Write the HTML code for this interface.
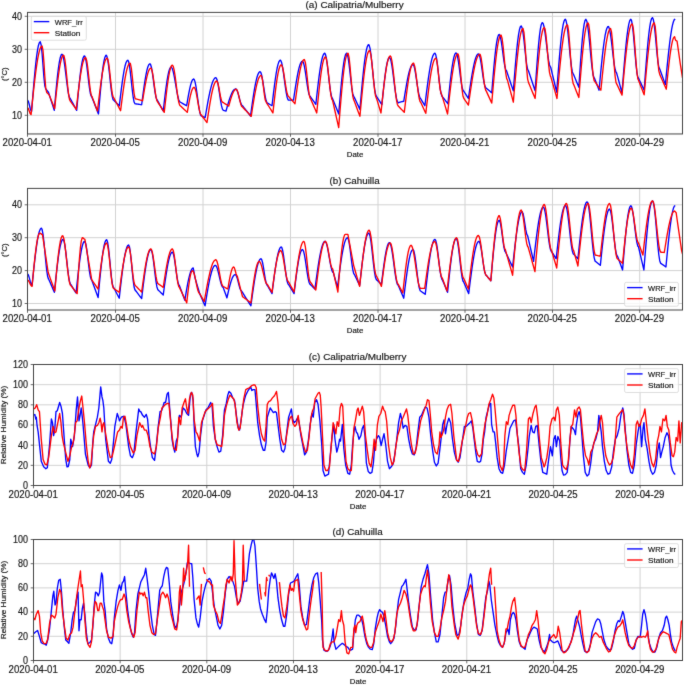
<!DOCTYPE html>
<html><head><meta charset="utf-8"><style>
html,body{margin:0;padding:0;background:#fff;}
svg{display:block;will-change:transform;}
text{fill:#1a1a1a;stroke:#1a1a1a;stroke-width:0.18px;}
</style></head><body>
<svg width="685" height="685" viewBox="0 0 685 685" font-family="Liberation Sans, sans-serif">
<defs><filter id="soft" x="0" y="0" width="685" height="685" filterUnits="userSpaceOnUse" color-interpolation-filters="sRGB"><feConvolveMatrix order="3" kernelMatrix="0.015 0.065 0.015 0.065 0.68 0.065 0.015 0.065 0.015" edgeMode="duplicate"/></filter></defs>
<g filter="url(#soft)">
<rect width="685" height="685" fill="#ffffff"/>
<clipPath id="clipa"><rect x="27.5" y="12.4" width="655.0" height="121.54999999999998"/></clipPath>
<path d="M27.50,12.4 L27.50,133.95 M115.50,12.4 L115.50,133.95 M203.00,12.4 L203.00,133.95 M290.50,12.4 L290.50,133.95 M378.00,12.4 L378.00,133.95 M465.00,12.4 L465.00,133.95 M552.50,12.4 L552.50,133.95 M639.70,12.4 L639.70,133.95 M27.5,115.30 L682.5,115.30 M27.5,82.30 L682.5,82.30 M27.5,49.30 L682.5,49.30 M27.5,16.30 L682.5,16.30" stroke="#d2d2d2" stroke-width="1" fill="none" clip-path="url(#clipa)"/>
<g clip-path="url(#clipa)" fill="none" stroke-width="1.35" stroke-linejoin="round" stroke-linecap="butt">
<path d="M27.50,100.12 L28.41,101.43 L29.32,104.76 L30.23,108.53 L31.14,111.00 L31.60,111.34 L32.05,105.59 L32.97,94.25 L33.88,83.37 L34.79,73.26 L35.70,64.18 L36.61,56.39 L37.52,50.10 L38.43,45.48 L39.34,42.66 L40.25,41.71 L41.16,44.87 L42.08,53.51 L42.99,65.31 L43.90,77.10 L44.81,85.74 L45.72,88.90 L46.63,90.00 L47.54,91.10 L48.45,92.20 L49.36,95.04 L50.27,97.87 L51.19,100.71 L52.10,103.54 L53.01,106.38 L53.92,109.22 L54.28,110.35 L54.83,104.07 L55.74,93.81 L56.65,84.14 L57.56,75.37 L58.47,67.83 L59.38,61.77 L60.30,57.40 L61.21,54.88 L61.94,54.25 L62.12,54.30 L63.03,56.12 L63.94,60.33 L64.85,66.42 L65.76,73.69 L66.67,81.28 L67.58,88.28 L68.49,93.88 L69.41,97.41 L70.23,98.47 L71.23,100.31 L72.14,101.98 L73.05,103.66 L73.96,105.33 L74.87,107.00 L75.78,108.68 L76.69,110.35 L77.60,100.34 L78.52,90.68 L79.43,81.69 L80.34,73.67 L81.25,66.90 L82.16,61.61 L83.07,57.98 L83.98,56.13 L84.44,55.90 L84.89,56.30 L85.80,59.40 L86.71,65.13 L87.63,72.58 L88.54,80.60 L89.45,87.93 L90.36,93.43 L91.27,96.23 L91.63,96.49 L92.18,97.89 L93.09,100.22 L94.00,102.55 L94.91,104.89 L95.82,107.22 L96.74,109.55 L97.65,111.88 L98.47,113.98 L99.47,102.12 L100.38,91.75 L101.29,82.14 L102.20,73.61 L103.11,66.46 L104.02,60.92 L104.93,57.19 L105.85,55.40 L106.21,55.24 L106.76,55.84 L107.67,59.42 L108.58,65.71 L109.49,73.78 L110.40,82.43 L111.31,90.37 L112.22,96.43 L113.13,99.70 L113.59,100.12 L114.04,100.57 L114.96,101.46 L115.87,102.35 L116.78,103.24 L117.69,104.13 L118.60,105.02 L119.33,105.73 L119.51,104.19 L120.42,96.56 L121.33,89.19 L122.24,82.30 L123.15,76.07 L124.07,70.68 L124.98,66.29 L125.89,63.02 L126.80,60.97 L127.80,60.19 L128.62,61.57 L129.53,66.12 L130.44,73.14 L131.35,81.54 L132.26,90.00 L133.18,97.22 L134.09,102.05 L135.00,103.75 L135.91,103.89 L136.82,104.02 L137.73,104.16 L138.64,104.29 L139.55,104.43 L140.46,104.56 L141.37,104.70 L141.65,104.74 L142.29,99.81 L143.20,92.90 L144.11,86.35 L145.02,80.35 L145.93,75.07 L146.84,70.67 L147.75,67.28 L148.66,65.01 L149.57,63.92 L149.94,63.82 L150.48,64.31 L151.40,67.20 L152.31,72.29 L153.22,78.82 L154.13,85.81 L155.04,92.24 L155.95,97.13 L156.86,99.78 L157.32,100.12 L157.77,100.96 L158.68,102.63 L159.59,104.31 L160.51,105.98 L161.42,107.66 L162.33,109.33 L163.24,111.01 L164.15,103.04 L165.06,95.33 L165.97,88.15 L166.88,81.72 L167.79,76.27 L168.70,71.98 L169.62,68.98 L170.53,67.38 L171.07,67.12 L171.44,67.26 L172.35,68.75 L173.26,71.77 L174.17,76.02 L175.08,81.10 L175.99,86.51 L176.90,91.74 L177.81,96.29 L178.73,99.71 L179.64,101.69 L180.27,102.10 L180.55,102.26 L181.46,102.77 L182.37,103.29 L183.28,103.81 L184.19,104.33 L185.10,104.85 L186.01,105.37 L186.65,105.73 L186.92,104.10 L187.84,98.72 L188.75,93.64 L189.66,89.06 L190.57,85.18 L191.48,82.14 L192.39,80.08 L193.30,79.09 L193.67,79.00 L194.21,79.45 L195.12,82.14 L196.03,86.90 L196.95,93.08 L197.86,99.86 L198.77,106.32 L199.68,111.59 L200.59,114.95 L201.41,115.96 L202.41,116.40 L203.32,116.81 L204.23,117.21 L205.14,117.61 L206.06,112.27 L206.97,107.02 L207.88,101.96 L208.79,97.18 L209.70,92.77 L210.61,88.81 L211.52,85.37 L212.43,82.51 L213.34,80.27 L214.25,78.72 L215.17,77.86 L215.80,77.68 L216.08,77.79 L216.99,79.62 L217.90,83.49 L218.81,88.85 L219.72,94.94 L220.63,100.90 L221.54,105.89 L222.45,109.19 L223.36,110.35 L224.28,110.58 L225.19,110.81 L226.01,111.01 L227.01,107.46 L227.92,104.30 L228.83,101.29 L229.74,98.49 L230.65,95.96 L231.56,93.75 L232.47,91.92 L233.39,90.49 L234.30,89.51 L235.21,88.99 L235.75,88.90 L236.12,89.02 L237.03,90.34 L237.94,92.90 L238.85,96.25 L239.76,99.78 L240.67,102.87 L241.58,104.98 L242.50,105.73 L243.41,106.89 L244.32,108.05 L245.23,109.22 L246.14,110.38 L247.05,111.54 L247.96,112.70 L248.87,113.87 L249.78,115.03 L250.51,115.96 L250.69,114.64 L251.61,108.06 L252.52,101.67 L253.43,95.59 L254.34,89.97 L255.25,84.93 L256.16,80.58 L257.07,77.02 L257.98,74.33 L258.89,72.57 L259.80,71.78 L260.08,71.74 L260.72,72.31 L261.63,75.03 L262.54,79.58 L263.45,85.29 L264.36,91.32 L265.27,96.78 L266.18,100.84 L267.09,102.90 L267.46,103.09 L268.00,103.41 L268.91,103.93 L269.83,104.46 L270.74,104.99 L271.65,105.52 L272.01,105.73 L272.56,101.02 L273.47,93.31 L274.38,85.97 L275.29,79.22 L276.20,73.25 L277.11,68.25 L278.02,64.36 L278.94,61.71 L279.85,60.36 L280.30,60.19 L280.76,60.49 L281.67,62.81 L282.58,67.18 L283.49,73.08 L284.40,79.81 L285.31,86.59 L286.22,92.60 L287.13,97.15 L288.05,99.69 L288.59,100.12 L288.96,100.12 L289.87,100.12 L290.78,100.12 L291.69,100.12 L292.60,100.12 L293.51,100.12 L294.42,93.91 L295.33,87.85 L296.24,82.11 L297.16,76.83 L298.07,72.15 L298.98,68.18 L299.89,65.04 L300.80,62.79 L301.71,61.50 L302.44,61.18 L302.62,61.23 L303.53,62.85 L304.44,66.58 L305.35,71.93 L306.27,78.19 L307.18,84.54 L308.09,90.13 L309.00,94.23 L309.91,96.30 L310.27,96.49 L310.82,97.27 L311.73,98.57 L312.64,99.87 L313.55,101.16 L314.46,102.46 L315.38,103.76 L315.83,104.41 L316.29,100.27 L317.20,92.11 L318.11,84.26 L319.02,76.95 L319.93,70.35 L320.84,64.64 L321.75,59.98 L322.66,56.47 L323.57,54.22 L324.49,53.29 L324.67,53.26 L325.40,54.22 L326.31,57.97 L327.22,64.09 L328.13,71.76 L329.04,79.97 L329.95,87.64 L330.86,93.76 L331.77,97.51 L332.50,98.47 L332.68,98.93 L333.60,101.21 L334.51,103.49 L335.42,105.77 L336.33,108.05 L337.24,110.33 L338.15,112.61 L338.70,113.98 L339.06,109.60 L339.97,98.79 L340.88,88.48 L341.79,79.00 L342.71,70.66 L343.62,63.72 L344.53,58.42 L345.44,54.92 L346.35,53.35 L346.62,53.26 L347.26,54.07 L348.17,57.90 L349.08,64.31 L349.99,72.33 L350.90,80.74 L351.82,88.26 L352.73,93.73 L353.64,96.34 L353.91,96.49 L354.55,97.85 L355.46,99.80 L356.37,101.76 L357.28,103.71 L358.19,105.66 L359.10,107.61 L359.92,109.36 L360.93,97.78 L361.84,87.57 L362.75,77.94 L363.66,69.15 L364.57,61.44 L365.48,55.00 L366.39,50.02 L367.30,46.62 L368.21,44.90 L368.67,44.68 L369.12,45.10 L370.04,48.39 L370.95,54.54 L371.86,62.76 L372.77,71.99 L373.68,81.04 L374.59,88.74 L375.50,94.10 L376.41,96.42 L376.59,96.49 L377.32,97.63 L378.23,99.05 L379.15,100.47 L380.06,101.90 L380.97,103.32 L381.88,104.74 L382.79,95.86 L383.70,87.30 L384.61,79.36 L385.52,72.33 L386.43,66.46 L387.34,61.95 L388.26,58.97 L389.17,57.63 L389.44,57.55 L390.08,58.13 L390.99,60.89 L391.90,65.66 L392.81,71.93 L393.72,79.06 L394.63,86.30 L395.54,92.90 L396.45,98.18 L397.37,101.58 L398.28,102.76 L399.19,102.42 L400.10,102.10 L401.01,101.83 L401.92,101.62 L402.83,101.48 L403.74,101.44 L404.65,95.71 L405.56,90.13 L406.48,84.81 L407.39,79.90 L408.30,75.51 L409.21,71.74 L410.12,68.69 L411.03,66.43 L411.94,65.02 L412.94,64.48 L413.76,65.43 L414.67,68.59 L415.58,73.53 L416.50,79.57 L417.41,85.87 L418.32,91.57 L419.23,95.87 L420.14,98.17 L420.60,98.47 L421.05,99.24 L421.96,100.79 L422.87,102.33 L423.78,103.88 L424.69,105.42 L424.88,105.73 L425.61,99.75 L426.52,92.39 L427.43,85.30 L428.34,78.63 L429.25,72.52 L430.16,67.07 L431.07,62.42 L431.98,58.64 L432.89,55.83 L433.80,54.03 L434.72,53.28 L434.90,53.26 L435.63,54.29 L436.54,58.32 L437.45,64.80 L438.36,72.78 L439.27,81.07 L440.18,88.45 L441.09,93.80 L442.00,96.34 L442.28,96.49 L442.91,97.31 L443.83,98.48 L444.74,99.65 L445.65,100.82 L446.56,101.99 L447.47,103.16 L447.93,103.75 L448.38,99.27 L449.29,90.45 L450.20,82.05 L451.11,74.32 L452.02,67.50 L452.94,61.81 L453.85,57.42 L454.76,54.47 L455.67,53.06 L456.03,52.93 L456.58,53.42 L457.49,56.30 L458.40,61.40 L459.31,67.98 L460.22,75.12 L461.13,81.80 L462.05,87.09 L462.96,90.22 L463.59,90.88 L463.87,91.31 L464.78,92.74 L465.69,94.17 L466.60,95.61 L467.51,97.04 L468.42,98.47 L469.33,92.13 L470.24,85.92 L471.16,79.96 L472.07,74.38 L472.98,69.30 L473.89,64.80 L474.80,60.99 L475.71,57.95 L476.62,55.72 L477.53,54.37 L478.44,53.92 L479.35,55.12 L480.27,58.56 L481.18,63.75 L482.09,69.95 L483.00,76.29 L483.91,81.87 L484.82,85.89 L485.73,87.80 L486.01,87.91 L486.64,88.46 L487.55,89.25 L488.46,90.03 L489.38,90.82 L490.29,91.60 L491.20,92.39 L491.74,92.86 L492.11,88.33 L493.02,77.20 L493.93,66.65 L494.84,57.08 L495.75,48.85 L496.66,42.28 L497.57,37.60 L498.49,34.99 L499.12,34.45 L499.40,34.57 L500.31,36.71 L501.22,41.21 L502.13,47.39 L503.04,54.36 L503.95,61.06 L504.86,66.50 L505.77,69.88 L506.50,70.75 L506.68,71.29 L507.60,73.97 L508.51,76.65 L509.42,79.34 L510.33,82.02 L511.24,84.71 L512.15,87.39 L513.06,90.07 L513.34,90.88 L513.97,82.59 L514.88,71.02 L515.79,60.10 L516.71,50.21 L517.62,41.68 L518.53,34.78 L519.44,29.75 L520.35,26.75 L521.17,25.87 L522.17,27.93 L523.08,33.08 L523.99,40.54 L524.90,49.19 L525.82,57.70 L526.73,64.79 L527.64,69.36 L528.46,70.75 L529.46,73.78 L530.37,76.54 L531.28,79.30 L532.19,82.06 L533.10,84.81 L534.01,87.57 L534.93,90.33 L535.11,90.88 L535.84,80.19 L536.75,67.24 L537.66,55.19 L538.57,44.51 L539.48,35.62 L540.39,28.84 L541.30,24.46 L542.21,22.62 L542.40,22.57 L543.12,23.41 L544.04,26.73 L544.95,32.19 L545.86,39.14 L546.77,46.77 L547.68,54.16 L548.59,60.46 L549.50,64.91 L550.41,67.00 L550.69,67.12 L551.32,69.78 L552.23,73.58 L553.15,77.38 L554.06,81.18 L554.97,84.98 L555.88,88.78 L556.70,92.20 L557.70,78.87 L558.61,67.13 L559.52,56.09 L560.43,46.05 L561.34,37.30 L562.26,30.08 L563.17,24.59 L564.08,20.98 L564.99,19.36 L565.26,19.27 L565.90,20.10 L566.81,24.06 L567.72,30.80 L568.63,39.49 L569.54,49.07 L570.45,58.36 L571.37,66.20 L572.28,71.63 L573.19,73.98 L573.37,74.05 L574.10,75.81 L575.01,78.01 L575.92,80.21 L576.83,82.41 L577.74,84.61 L578.65,86.81 L578.84,87.25 L579.56,76.20 L580.48,62.84 L581.39,50.50 L582.30,39.67 L583.21,30.82 L584.12,24.31 L585.03,20.41 L585.85,19.27 L586.85,21.23 L587.76,26.21 L588.67,33.67 L589.59,42.79 L590.50,52.55 L591.41,61.89 L592.32,69.75 L593.23,75.28 L594.14,77.86 L594.41,78.01 L595.05,79.69 L595.96,82.08 L596.87,84.47 L597.78,86.87 L598.70,89.26 L599.06,90.22 L599.61,84.29 L600.52,74.53 L601.43,65.16 L602.34,56.39 L603.25,48.44 L604.16,41.50 L605.07,35.74 L605.98,31.28 L606.89,28.26 L607.81,26.72 L608.26,26.53 L608.72,26.87 L609.63,29.56 L610.54,34.61 L611.45,41.44 L612.36,49.23 L613.27,57.07 L614.18,64.03 L615.09,69.29 L616.00,72.24 L616.55,72.73 L616.92,74.07 L617.83,77.43 L618.74,80.78 L619.65,84.14 L620.56,87.49 L621.47,90.85 L622.02,92.86 L622.38,88.10 L623.29,76.32 L624.20,64.97 L625.11,54.36 L626.03,44.75 L626.94,36.40 L627.85,29.53 L628.76,24.32 L629.67,20.89 L630.58,19.36 L630.85,19.27 L631.49,20.29 L632.40,25.14 L633.31,33.32 L634.22,43.66 L635.14,54.71 L636.05,64.90 L636.96,72.79 L637.87,77.26 L638.42,78.01 L638.78,78.79 L639.69,80.72 L640.60,82.66 L641.51,84.60 L642.42,86.54 L643.33,88.48 L644.15,90.22 L645.16,76.52 L646.07,64.48 L646.98,53.20 L647.89,43.02 L648.80,34.25 L649.71,27.14 L650.62,21.90 L651.53,18.70 L652.44,17.62 L653.36,19.58 L654.27,25.16 L655.18,33.51 L656.09,43.36 L657.00,53.21 L657.91,61.56 L658.82,67.14 L659.73,69.10 L660.64,71.60 L661.55,74.10 L662.47,76.60 L663.38,79.11 L664.29,81.61 L665.20,84.11 L665.38,84.61 L666.11,76.99 L667.02,67.61 L667.93,58.60 L668.84,50.13 L669.75,42.40 L670.66,35.55 L671.58,29.74 L672.49,25.09 L673.40,21.70 L674.31,19.63 L675.22,18.94" stroke="#0000ff"/>
<path d="M27.50,107.71 L28.41,108.77 L29.32,111.31 L30.23,113.77 L31.05,114.64 L32.05,104.87 L32.97,96.16 L33.88,87.76 L34.79,79.81 L35.70,72.44 L36.61,65.79 L37.52,59.96 L38.43,55.05 L39.34,51.14 L40.25,48.30 L41.16,46.58 L42.08,46.00 L42.99,50.41 L43.90,61.96 L44.81,76.24 L45.72,87.79 L46.63,92.20 L47.54,93.18 L48.45,94.16 L49.09,94.84 L49.36,95.52 L50.27,97.79 L51.19,100.07 L52.10,102.34 L53.01,104.61 L53.92,106.88 L54.65,108.70 L54.83,106.97 L55.74,98.38 L56.65,90.05 L57.56,82.22 L58.47,75.08 L59.38,68.82 L60.30,63.60 L61.21,59.56 L62.12,56.81 L63.03,55.42 L63.48,55.24 L63.94,55.74 L64.85,59.62 L65.76,66.71 L66.67,75.78 L67.58,85.26 L68.49,93.52 L69.41,99.13 L70.32,101.11 L71.23,102.38 L72.14,103.65 L73.05,104.92 L73.96,106.19 L74.87,107.46 L75.78,108.73 L76.24,109.36 L76.69,105.37 L77.60,97.50 L78.52,89.90 L79.43,82.77 L80.34,76.26 L81.25,70.54 L82.16,65.74 L83.07,61.96 L83.98,59.32 L84.89,57.85 L85.53,57.55 L85.80,57.72 L86.71,60.68 L87.63,66.79 L88.54,74.87 L89.45,83.36 L90.36,90.63 L91.27,95.28 L92.00,96.49 L92.18,96.97 L93.09,99.39 L94.00,101.81 L94.91,104.23 L95.82,106.65 L96.74,109.07 L97.46,111.01 L97.65,109.45 L98.56,101.67 L99.47,94.10 L100.38,86.90 L101.29,80.23 L102.20,74.23 L103.11,69.04 L104.02,64.77 L104.93,61.51 L105.85,59.34 L106.76,58.30 L107.12,58.21 L107.67,58.90 L108.58,62.93 L109.49,69.83 L110.40,78.28 L111.31,86.64 L112.22,93.31 L113.13,97.00 L113.59,97.48 L114.04,98.34 L114.96,100.05 L115.87,101.77 L116.78,103.48 L117.69,105.19 L118.60,106.91 L119.51,108.62 L120.42,110.34 L120.60,110.68 L121.33,104.90 L122.24,97.80 L123.15,91.00 L124.07,84.66 L124.98,78.92 L125.89,73.92 L126.80,69.77 L127.71,66.57 L128.62,64.40 L129.53,63.30 L129.99,63.16 L130.44,63.77 L131.35,68.38 L132.26,76.37 L133.18,85.59 L134.09,93.58 L135.00,98.19 L135.45,98.80 L135.91,98.93 L136.82,99.18 L137.73,99.43 L138.64,99.69 L139.55,99.94 L140.46,100.20 L141.37,100.45 L142.29,100.70 L142.56,100.78 L143.20,96.84 L144.11,91.33 L145.02,86.10 L145.93,81.30 L146.84,77.09 L147.75,73.58 L148.66,70.87 L149.57,69.06 L150.48,68.19 L150.85,68.11 L151.40,68.63 L152.31,71.69 L153.22,77.02 L154.13,83.70 L155.04,90.62 L155.95,96.62 L156.86,100.67 L157.77,102.10 L158.68,103.54 L159.59,104.98 L160.51,106.42 L161.42,107.86 L162.33,109.30 L163.24,110.75 L164.24,112.33 L165.06,104.87 L165.97,96.80 L166.88,89.22 L167.79,82.35 L168.70,76.42 L169.62,71.60 L170.53,68.05 L171.44,65.87 L172.35,65.14 L173.26,66.45 L174.17,70.21 L175.08,75.93 L175.99,82.88 L176.90,90.15 L177.81,96.82 L178.73,102.02 L179.64,105.09 L180.27,105.73 L180.55,105.99 L181.46,106.84 L182.37,107.70 L183.28,108.56 L184.19,109.42 L185.10,110.27 L186.01,111.13 L186.92,111.99 L187.29,112.33 L187.84,109.14 L188.75,103.97 L189.66,99.18 L190.57,94.98 L191.48,91.55 L192.39,89.06 L193.30,87.61 L194.03,87.25 L194.21,87.29 L195.12,88.71 L196.03,91.94 L196.95,96.53 L197.86,101.81 L198.77,107.01 L199.68,111.38 L200.59,114.28 L201.50,115.30 L202.41,116.51 L203.32,117.72 L204.23,118.93 L205.14,120.14 L206.06,121.35 L206.97,122.56 L207.88,116.48 L208.79,110.53 L209.70,104.83 L210.61,99.52 L211.52,94.71 L212.43,90.49 L213.34,86.96 L214.25,84.20 L215.17,82.27 L216.08,81.20 L216.71,80.98 L216.99,81.10 L217.90,83.12 L218.81,87.20 L219.72,92.33 L220.63,97.27 L221.54,100.81 L222.45,102.10 L223.36,102.67 L224.28,103.25 L225.19,103.82 L226.10,104.40 L227.01,104.97 L227.92,105.54 L228.74,106.06 L229.74,102.50 L230.65,99.39 L231.56,96.54 L232.47,94.04 L233.39,92.00 L234.30,90.48 L235.21,89.55 L236.12,89.23 L237.03,90.11 L237.94,92.58 L238.85,96.16 L239.76,100.12 L240.67,103.70 L241.58,106.17 L242.50,107.05 L243.41,108.01 L244.32,108.97 L245.23,109.94 L246.14,110.90 L247.05,111.86 L247.96,112.83 L248.87,113.79 L249.78,114.75 L250.69,115.71 L251.24,116.29 L251.61,113.91 L252.52,108.02 L253.43,102.29 L254.34,96.87 L255.25,91.85 L256.16,87.36 L257.07,83.47 L257.98,80.27 L258.89,77.84 L259.80,76.22 L260.72,75.44 L261.08,75.37 L261.63,76.12 L262.54,80.40 L263.45,87.24 L264.36,94.53 L265.27,100.05 L266.18,102.10 L267.09,103.57 L268.00,105.04 L268.91,106.51 L269.83,107.99 L270.74,109.46 L271.65,110.93 L272.56,112.40 L272.92,112.99 L273.47,108.01 L274.38,99.85 L275.29,92.09 L276.20,84.94 L277.11,78.63 L278.02,73.34 L278.94,69.23 L279.85,66.42 L280.76,64.99 L281.21,64.81 L281.67,65.11 L282.58,67.42 L283.49,71.69 L284.40,77.30 L285.31,83.40 L286.22,89.10 L287.13,93.54 L288.05,96.06 L288.59,96.49 L288.96,96.90 L289.87,97.94 L290.78,98.98 L291.69,100.02 L292.60,101.05 L293.51,102.09 L294.42,103.13 L294.97,103.75 L295.33,101.03 L296.24,94.29 L297.16,87.78 L298.07,81.64 L298.98,76.03 L299.89,71.07 L300.80,66.89 L301.71,63.58 L302.62,61.22 L303.53,59.87 L304.26,59.53 L304.44,59.61 L305.35,62.45 L306.27,68.75 L307.18,77.20 L308.09,86.03 L309.00,93.39 L309.91,97.73 L310.46,98.47 L310.82,99.31 L311.73,101.42 L312.64,103.52 L313.55,105.62 L314.46,107.73 L315.38,109.83 L316.29,111.94 L316.74,112.99 L317.20,108.36 L318.11,99.22 L319.02,90.45 L319.93,82.31 L320.84,74.99 L321.75,68.72 L322.66,63.65 L323.57,59.93 L324.49,57.66 L325.40,56.89 L326.31,58.62 L327.22,63.53 L328.13,70.84 L329.04,79.38 L329.95,87.77 L330.86,94.68 L331.77,99.01 L332.50,100.12 L332.68,100.93 L333.60,104.95 L334.51,108.98 L335.42,113.01 L336.33,117.04 L337.24,121.07 L338.15,125.09 L338.70,127.51 L339.06,122.89 L339.97,111.47 L340.88,100.43 L341.79,90.05 L342.71,80.57 L343.62,72.23 L344.53,65.22 L345.44,59.71 L346.35,55.84 L347.26,53.70 L347.90,53.26 L348.17,53.50 L349.08,57.60 L349.99,65.95 L350.90,76.69 L351.82,87.43 L352.73,95.78 L353.64,99.88 L353.91,100.12 L354.55,101.83 L355.46,104.28 L356.37,106.73 L357.28,109.19 L358.19,111.64 L359.10,114.09 L359.92,116.29 L360.93,105.53 L361.84,96.00 L362.75,86.91 L363.66,78.49 L364.57,70.91 L365.48,64.34 L366.39,58.93 L367.30,54.81 L368.21,52.06 L369.12,50.74 L369.49,50.62 L370.04,51.32 L370.95,55.42 L371.86,62.58 L372.77,71.66 L373.68,81.20 L374.59,89.68 L375.50,95.73 L376.41,98.39 L376.59,98.47 L377.32,100.89 L378.23,103.92 L379.15,106.94 L380.06,109.97 L380.97,112.99 L381.88,104.23 L382.79,95.68 L383.70,87.54 L384.61,80.00 L385.52,73.25 L386.43,67.43 L387.34,62.69 L388.26,59.15 L389.17,56.87 L390.08,55.93 L390.26,55.90 L390.99,56.92 L391.90,60.90 L392.81,67.42 L393.72,75.65 L394.63,84.55 L395.54,93.00 L396.45,99.93 L397.37,104.48 L398.28,106.06 L399.19,107.01 L400.10,107.96 L401.01,108.91 L401.92,109.86 L402.83,110.81 L403.74,111.76 L404.29,112.33 L404.65,109.24 L405.56,101.60 L406.48,94.23 L407.39,87.30 L408.30,80.99 L409.21,75.45 L410.12,70.81 L411.03,67.20 L411.94,64.70 L412.85,63.38 L413.40,63.16 L413.76,63.41 L414.67,66.10 L415.58,71.37 L416.50,78.41 L417.41,86.10 L418.32,93.24 L419.23,98.74 L420.14,101.72 L420.60,102.10 L421.05,103.08 L421.96,105.05 L422.87,107.02 L423.78,108.99 L424.69,110.96 L425.61,112.93 L425.79,113.32 L426.52,107.04 L427.43,99.31 L428.34,91.87 L429.25,84.86 L430.16,78.43 L431.07,72.72 L431.98,67.83 L432.89,63.86 L433.80,60.91 L434.72,59.02 L435.63,58.23 L435.81,58.21 L436.54,59.65 L437.45,65.12 L438.36,73.33 L439.27,82.22 L440.18,89.55 L441.09,93.49 L441.46,93.85 L442.00,95.65 L442.91,98.66 L443.83,101.66 L444.74,104.67 L445.65,107.67 L446.56,110.68 L447.56,113.98 L448.38,106.49 L449.29,98.30 L450.20,90.42 L451.11,82.99 L452.02,76.16 L452.94,70.06 L453.85,64.81 L454.76,60.50 L455.67,57.23 L456.58,55.05 L457.49,54.01 L457.86,53.92 L458.40,54.82 L459.31,60.07 L460.22,68.91 L461.13,79.37 L462.05,89.12 L462.96,95.99 L463.87,98.47 L464.78,99.79 L465.69,101.11 L466.60,102.43 L467.51,103.75 L468.42,105.07 L469.33,98.70 L470.24,92.43 L471.16,86.36 L472.07,80.59 L472.98,75.20 L473.89,70.28 L474.80,65.91 L475.71,62.16 L476.62,59.09 L477.53,56.74 L478.44,55.15 L479.35,54.35 L479.81,54.25 L480.27,54.71 L481.18,58.25 L482.09,64.62 L483.00,72.56 L483.91,80.51 L484.82,86.88 L485.73,90.42 L486.19,90.88 L486.64,91.88 L487.55,93.88 L488.46,95.88 L489.38,97.89 L490.29,99.89 L491.20,101.89 L491.74,103.09 L492.11,98.86 L493.02,88.41 L493.93,78.30 L494.84,68.80 L495.75,60.12 L496.66,52.48 L497.57,46.06 L498.49,41.02 L499.40,37.47 L500.31,35.51 L500.95,35.11 L501.22,35.31 L502.13,38.72 L503.04,45.76 L503.95,55.07 L504.86,64.86 L505.77,73.24 L506.68,78.60 L507.41,79.99 L507.60,80.67 L508.51,84.07 L509.42,87.47 L510.33,90.87 L511.24,94.28 L512.15,97.68 L513.06,101.08 L513.34,102.10 L513.97,94.48 L514.88,83.76 L515.79,73.44 L516.71,63.74 L517.62,54.89 L518.53,47.07 L519.44,40.46 L520.35,35.20 L521.26,31.41 L522.17,29.16 L522.99,28.51 L523.99,32.74 L524.90,42.85 L525.82,56.27 L526.73,69.50 L527.64,79.12 L528.55,82.63 L529.46,84.83 L530.37,87.03 L531.28,89.23 L532.19,91.43 L533.10,93.63 L534.01,95.83 L534.93,98.03 L535.11,98.47 L535.84,89.67 L536.75,78.87 L537.66,68.54 L538.57,58.94 L539.48,50.29 L540.39,42.80 L541.30,36.66 L542.21,32.01 L543.12,28.97 L544.04,27.60 L544.31,27.52 L544.95,28.72 L545.86,34.29 L546.77,43.36 L547.68,54.13 L548.59,64.47 L549.50,72.32 L550.41,76.14 L550.69,76.36 L551.32,78.60 L552.23,81.81 L553.15,85.01 L554.06,88.22 L554.97,91.42 L555.88,94.62 L556.79,97.83 L556.97,98.47 L557.70,90.30 L558.61,80.25 L559.52,70.54 L560.43,61.38 L561.34,52.93 L562.26,45.36 L563.17,38.81 L564.08,33.42 L564.99,29.28 L565.90,26.47 L566.81,25.06 L567.27,24.88 L567.72,25.66 L568.63,31.69 L569.54,42.49 L570.45,55.78 L571.37,68.79 L572.28,78.78 L573.19,83.67 L573.46,83.95 L574.10,85.56 L575.01,87.85 L575.92,90.14 L576.83,92.43 L577.74,94.73 L578.65,97.02 L578.84,97.48 L579.56,88.22 L580.48,76.87 L581.39,66.02 L582.30,55.93 L583.21,46.83 L584.12,38.96 L585.03,32.51 L585.94,27.62 L586.85,24.42 L587.76,22.98 L588.04,22.90 L588.67,24.32 L589.59,30.95 L590.50,41.74 L591.41,54.54 L592.32,66.83 L593.23,76.18 L594.14,80.72 L594.41,80.98 L595.05,81.89 L595.96,83.19 L596.87,84.49 L597.78,85.80 L598.70,87.10 L599.61,88.40 L600.52,89.70 L600.88,90.22 L601.43,84.74 L602.34,75.73 L603.25,67.03 L604.16,58.84 L605.07,51.34 L605.98,44.69 L606.89,39.04 L607.81,34.51 L608.72,31.20 L609.63,29.19 L610.54,28.51 L611.45,31.57 L612.36,40.08 L613.27,52.14 L614.18,65.08 L615.09,76.01 L616.00,82.50 L616.55,83.62 L616.92,84.39 L617.83,86.31 L618.74,88.24 L619.65,90.16 L620.56,92.09 L621.47,94.01 L622.02,95.17 L622.38,91.14 L623.29,81.14 L624.20,71.42 L625.11,62.18 L626.03,53.60 L626.94,45.85 L627.85,39.08 L628.76,33.44 L629.67,29.03 L630.58,25.94 L631.49,24.24 L632.13,23.89 L632.40,24.15 L633.31,28.66 L634.22,37.91 L635.14,50.03 L636.05,62.53 L636.96,72.87 L637.87,78.95 L638.42,79.99 L638.78,80.93 L639.69,83.29 L640.60,85.65 L641.51,88.00 L642.42,90.36 L643.33,92.72 L644.15,94.84 L645.16,83.69 L646.07,73.77 L646.98,64.28 L647.89,55.40 L648.80,47.31 L649.71,40.17 L650.62,34.12 L651.53,29.29 L652.44,25.76 L653.36,23.62 L654.27,22.90 L655.18,26.35 L656.09,35.77 L657.00,48.64 L657.91,61.51 L658.82,70.93 L659.73,74.38 L660.64,76.44 L661.55,78.50 L662.47,80.57 L663.38,82.63 L664.29,84.69 L665.20,86.75 L666.11,88.82 L666.29,89.23 L667.02,82.01 L667.93,73.19 L668.84,64.85 L669.75,57.23 L670.66,50.56 L671.58,45.04 L672.49,40.84 L673.40,38.08 L674.31,36.83 L674.58,36.76 L675.22,39.04 L675.67,40.39 L676.13,40.61 L677.04,41.05 L677.95,47.46 L678.86,53.87 L679.77,60.28 L680.23,63.49 L680.69,66.39 L681.60,72.20 L682.51,78.01" stroke="#ff0000"/>
</g>
<rect x="31.30" y="16.40" width="55.0" height="23.8" rx="1.6" fill="#ffffff" fill-opacity="0.8" stroke="#d6d6d6" stroke-width="0.8"/>
<path d="M33.80,21.60 h15.5" stroke="#0000ff" stroke-width="1.35"/>
<path d="M33.80,32.70 h15.5" stroke="#ff0000" stroke-width="1.35"/>
<text x="54.80" y="24.60" font-size="7.5" text-anchor="start" textLength="28.00" lengthAdjust="spacingAndGlyphs">WRF_irr</text>
<text x="54.70" y="35.70" font-size="7.5" text-anchor="start" textLength="25.60" lengthAdjust="spacingAndGlyphs">Station</text>
<rect x="27.5" y="12.4" width="655.0" height="121.54999999999998" fill="none" stroke="#444444" stroke-width="1"/>
<path d="M27.50,133.95 v2.8 M115.50,133.95 v2.8 M203.00,133.95 v2.8 M290.50,133.95 v2.8 M378.00,133.95 v2.8 M465.00,133.95 v2.8 M552.50,133.95 v2.8 M639.70,133.95 v2.8 M27.5,115.30 h-2.8 M27.5,82.30 h-2.8 M27.5,49.30 h-2.8 M27.5,16.30 h-2.8" stroke="#444444" stroke-width="0.8"/>
<text x="27.20" y="146.20" font-size="10.0" text-anchor="middle" textLength="49.2" lengthAdjust="spacingAndGlyphs">2020-04-01</text>
<text x="115.20" y="146.20" font-size="10.0" text-anchor="middle" textLength="49.2" lengthAdjust="spacingAndGlyphs">2020-04-05</text>
<text x="202.70" y="146.20" font-size="10.0" text-anchor="middle" textLength="49.2" lengthAdjust="spacingAndGlyphs">2020-04-09</text>
<text x="290.20" y="146.20" font-size="10.0" text-anchor="middle" textLength="49.2" lengthAdjust="spacingAndGlyphs">2020-04-13</text>
<text x="377.70" y="146.20" font-size="10.0" text-anchor="middle" textLength="49.2" lengthAdjust="spacingAndGlyphs">2020-04-17</text>
<text x="464.70" y="146.20" font-size="10.0" text-anchor="middle" textLength="49.2" lengthAdjust="spacingAndGlyphs">2020-04-21</text>
<text x="552.20" y="146.20" font-size="10.0" text-anchor="middle" textLength="49.2" lengthAdjust="spacingAndGlyphs">2020-04-25</text>
<text x="639.40" y="146.20" font-size="10.0" text-anchor="middle" textLength="49.2" lengthAdjust="spacingAndGlyphs">2020-04-29</text>
<text x="22.10" y="118.65" font-size="10.0" text-anchor="end" textLength="10.00" lengthAdjust="spacingAndGlyphs">10</text>
<text x="22.10" y="85.65" font-size="10.0" text-anchor="end" textLength="10.00" lengthAdjust="spacingAndGlyphs">20</text>
<text x="22.10" y="52.65" font-size="10.0" text-anchor="end" textLength="10.00" lengthAdjust="spacingAndGlyphs">30</text>
<text x="22.10" y="19.65" font-size="10.0" text-anchor="end" textLength="10.00" lengthAdjust="spacingAndGlyphs">40</text>
<text x="354.60" y="8.10" font-size="8.9" text-anchor="middle" textLength="98.11" lengthAdjust="spacingAndGlyphs">(a) Calipatria/Mulberry</text>
<text x="355.00" y="156.95" font-size="7.0" text-anchor="middle" textLength="16.49" lengthAdjust="spacingAndGlyphs">Date</text>
<g transform="translate(7.0,74.17) rotate(-90)"><text x="0.00" y="0.00" font-size="7.0" text-anchor="middle" textLength="13.60" lengthAdjust="spacingAndGlyphs">(°C)</text></g>
<clipPath id="clipb"><rect x="27.5" y="188.4" width="655.0" height="121.6"/></clipPath>
<path d="M27.50,188.4 L27.50,310.0 M115.50,188.4 L115.50,310.0 M203.00,188.4 L203.00,310.0 M290.50,188.4 L290.50,310.0 M378.00,188.4 L378.00,310.0 M465.00,188.4 L465.00,310.0 M552.50,188.4 L552.50,310.0 M639.70,188.4 L639.70,310.0 M27.5,303.50 L682.5,303.50 M27.5,270.60 L682.5,270.60 M27.5,237.70 L682.5,237.70 M27.5,204.80 L682.5,204.80" stroke="#d2d2d2" stroke-width="1" fill="none" clip-path="url(#clipb)"/>
<g clip-path="url(#clipb)" fill="none" stroke-width="1.35" stroke-linejoin="round" stroke-linecap="butt">
<path d="M27.50,273.89 L28.41,274.99 L29.32,277.87 L30.23,281.43 L31.14,284.31 L32.05,285.40 L32.97,276.62 L33.88,268.05 L34.79,259.89 L35.70,252.33 L36.61,245.55 L37.52,239.72 L38.43,234.97 L39.34,231.41 L40.25,229.13 L41.16,228.19 L41.35,228.16 L42.08,229.38 L42.99,234.12 L43.90,241.77 L44.81,251.19 L45.72,260.97 L46.63,269.66 L47.54,275.98 L48.45,278.98 L48.73,279.15 L49.36,280.64 L50.27,282.76 L51.19,284.88 L52.10,287.01 L53.01,289.13 L53.92,291.25 L54.37,292.31 L54.83,287.94 L55.74,279.31 L56.65,271.04 L57.56,263.34 L58.47,256.44 L59.38,250.51 L60.30,245.73 L61.21,242.22 L62.12,240.07 L63.03,239.34 L63.94,240.87 L64.85,245.23 L65.76,251.84 L66.67,259.80 L67.58,268.05 L68.49,275.46 L69.41,281.04 L70.32,284.03 L70.77,284.42 L71.23,285.16 L72.14,286.63 L73.05,288.11 L73.96,289.58 L74.87,291.05 L75.78,292.53 L76.06,292.97 L76.69,286.94 L77.60,278.49 L78.52,270.45 L79.43,263.03 L80.34,256.45 L81.25,250.88 L82.16,246.49 L83.07,243.39 L83.98,241.67 L84.62,241.32 L84.89,241.46 L85.80,243.96 L86.71,249.19 L87.63,256.28 L88.54,264.08 L89.45,271.30 L90.36,276.76 L91.27,279.56 L91.63,279.81 L92.18,281.31 L93.09,283.82 L94.00,286.32 L94.91,288.82 L95.82,291.32 L96.74,293.82 L97.65,296.33 L98.10,297.58 L98.56,292.69 L99.47,283.06 L100.38,273.85 L101.29,265.31 L102.20,257.68 L103.11,251.20 L104.02,246.03 L104.93,242.33 L105.85,240.20 L106.57,239.67 L106.76,239.75 L107.67,242.48 L108.58,248.65 L109.49,257.27 L110.40,266.92 L111.31,276.01 L112.22,283.05 L113.13,286.88 L113.59,287.38 L114.04,288.25 L114.96,290.01 L115.87,291.76 L116.78,293.51 L117.69,295.26 L118.60,297.01 L119.24,298.24 L119.51,295.80 L120.42,287.74 L121.33,279.92 L122.24,272.53 L123.15,265.74 L124.07,259.70 L124.98,254.55 L125.89,250.42 L126.80,247.40 L127.71,245.56 L128.62,244.94 L129.53,247.05 L130.44,252.99 L131.35,261.64 L132.26,271.39 L133.18,280.40 L134.09,286.99 L135.00,289.93 L135.18,290.01 L135.91,290.97 L136.82,292.18 L137.73,293.38 L138.64,294.59 L139.55,295.79 L140.46,297.00 L141.37,298.20 L141.65,298.56 L142.29,293.24 L143.20,285.75 L144.11,278.58 L145.02,271.89 L145.93,265.84 L146.84,260.58 L147.75,256.24 L148.66,252.92 L149.57,250.70 L150.48,249.64 L150.85,249.54 L151.40,250.09 L152.31,253.32 L153.22,258.99 L154.13,266.26 L155.04,274.06 L155.95,281.22 L156.86,286.68 L157.77,289.63 L158.23,290.01 L158.68,290.46 L159.59,291.36 L160.51,292.25 L161.42,293.15 L162.33,294.05 L163.24,294.95 L164.15,288.26 L165.06,281.73 L165.97,275.53 L166.88,269.81 L167.79,264.70 L168.70,260.34 L169.62,256.84 L170.53,254.27 L171.44,252.70 L172.35,252.18 L173.26,253.54 L174.17,257.41 L175.08,263.14 L175.99,269.81 L176.90,276.30 L177.81,281.57 L178.73,284.73 L179.36,285.40 L179.64,286.15 L180.55,288.61 L181.46,291.08 L182.37,293.55 L183.28,296.02 L184.19,298.48 L184.83,300.21 L185.10,298.56 L186.01,293.11 L186.92,287.87 L187.84,282.99 L188.75,278.61 L189.66,274.86 L190.57,271.84 L191.48,269.65 L192.39,268.35 L193.21,267.97 L194.21,273.45 L195.12,278.17 L196.03,281.26 L196.95,284.35 L197.86,287.44 L198.77,290.54 L199.68,293.63 L200.59,295.69 L201.50,297.76 L202.41,299.82 L203.32,301.88 L204.23,303.95 L205.05,305.80 L206.06,299.64 L206.97,294.16 L207.88,288.90 L208.79,283.97 L209.70,279.46 L210.61,275.46 L211.52,272.04 L212.43,269.27 L213.34,267.21 L214.25,265.90 L215.17,265.35 L215.35,265.34 L216.08,265.80 L216.99,267.63 L217.90,270.62 L218.81,274.36 L219.72,278.36 L220.63,282.10 L221.54,285.08 L222.45,286.91 L223.18,287.38 L223.36,287.89 L224.28,290.46 L225.19,293.03 L226.10,295.60 L226.92,297.91 L227.92,293.50 L228.83,289.62 L229.74,286.00 L230.65,282.72 L231.56,279.90 L232.47,277.61 L233.39,275.93 L234.30,274.90 L235.21,274.55 L236.12,275.36 L237.03,277.64 L237.94,280.94 L238.85,284.60 L239.76,287.90 L240.67,290.18 L241.58,291.00 L242.50,292.45 L243.41,293.90 L244.32,295.35 L245.23,296.80 L246.14,298.26 L247.05,299.71 L247.96,301.16 L248.87,302.61 L249.78,304.06 L250.69,305.51 L250.88,305.80 L251.61,300.49 L252.52,293.95 L253.43,287.65 L254.34,281.71 L255.25,276.25 L256.16,271.38 L257.07,267.20 L257.98,263.79 L258.89,261.23 L259.80,259.55 L260.72,258.80 L260.99,258.76 L261.63,259.41 L262.54,262.45 L263.45,267.40 L264.36,273.27 L265.27,278.91 L266.18,283.20 L267.09,285.28 L267.37,285.40 L268.00,286.53 L268.91,288.15 L269.83,289.76 L270.74,291.37 L271.65,292.98 L272.01,293.63 L272.56,289.28 L273.47,282.12 L274.38,275.25 L275.29,268.82 L276.20,262.99 L277.11,257.89 L278.02,253.66 L278.94,250.40 L279.85,248.18 L280.76,247.05 L281.21,246.91 L281.67,247.27 L282.58,250.07 L283.49,255.25 L284.40,262.01 L285.31,269.32 L286.22,276.08 L287.13,281.26 L288.05,284.06 L288.50,284.42 L288.96,285.17 L289.87,286.68 L290.78,288.19 L291.69,289.70 L292.60,291.21 L293.51,292.72 L294.06,293.63 L294.42,290.62 L295.33,283.19 L296.24,276.07 L297.16,269.45 L298.07,263.54 L298.98,258.50 L299.89,254.49 L300.80,251.61 L301.71,249.95 L302.44,249.54 L302.62,249.59 L303.53,251.19 L304.44,254.88 L305.35,260.16 L306.27,266.34 L307.18,272.61 L308.09,278.13 L309.00,282.19 L309.91,284.23 L310.27,284.42 L310.82,284.96 L311.73,285.86 L312.64,286.77 L313.55,287.67 L314.46,288.57 L314.92,289.02 L315.38,285.65 L316.29,278.97 L317.20,272.50 L318.11,266.35 L319.02,260.66 L319.93,255.53 L320.84,251.07 L321.75,247.38 L322.66,244.51 L323.57,242.54 L324.49,241.49 L325.03,241.32 L325.40,241.47 L326.31,243.11 L327.22,246.38 L328.13,250.90 L329.04,256.14 L329.95,261.47 L330.86,266.26 L331.77,269.96 L332.68,272.12 L333.32,272.57 L333.60,273.54 L334.51,276.76 L335.42,279.98 L336.33,283.19 L337.24,286.41 L337.51,287.38 L338.15,282.38 L339.06,275.33 L339.97,268.53 L340.88,262.13 L341.79,256.24 L342.71,251.01 L343.62,246.53 L344.53,242.89 L345.44,240.18 L346.35,238.44 L347.26,237.72 L347.44,237.70 L348.17,238.67 L349.08,242.45 L349.99,248.47 L350.90,255.75 L351.82,263.09 L352.73,269.28 L353.64,273.32 L354.46,274.55 L355.46,276.64 L356.37,278.55 L357.28,280.45 L358.19,282.36 L359.10,284.26 L359.65,285.40 L360.01,282.12 L360.93,273.99 L361.84,266.15 L362.75,258.78 L363.66,252.06 L364.57,246.17 L365.48,241.24 L366.39,237.40 L367.30,234.74 L368.21,233.33 L368.76,233.09 L369.12,233.34 L370.04,236.08 L370.95,241.51 L371.86,248.91 L372.77,257.31 L373.68,265.59 L374.59,272.67 L375.50,277.60 L376.41,279.75 L376.59,279.81 L377.32,280.51 L378.23,281.38 L379.15,282.25 L380.06,283.11 L380.97,283.98 L381.42,284.42 L381.88,280.69 L382.79,273.36 L383.70,266.39 L384.61,259.98 L385.52,254.35 L386.43,249.68 L387.34,246.11 L388.26,243.75 L389.17,242.69 L389.44,242.63 L390.08,243.18 L390.99,245.80 L391.90,250.30 L392.81,256.24 L393.72,262.98 L394.63,269.83 L395.54,276.08 L396.45,281.07 L397.37,284.29 L398.28,285.40 L399.19,287.54 L400.10,289.68 L401.01,291.82 L401.92,293.96 L402.83,296.10 L403.74,298.24 L404.65,290.69 L405.56,283.33 L406.48,276.33 L407.39,269.86 L408.30,264.07 L409.21,259.11 L410.12,255.09 L411.03,252.12 L411.94,250.25 L412.94,249.54 L413.76,250.71 L414.67,254.56 L415.58,260.59 L416.50,267.95 L417.41,275.64 L418.32,282.58 L419.23,287.82 L420.14,290.64 L420.60,291.00 L421.05,291.32 L421.96,291.97 L422.87,292.61 L423.78,293.26 L424.69,293.90 L425.24,294.29 L425.61,291.06 L426.52,283.08 L427.43,275.33 L428.34,267.99 L429.25,261.22 L430.16,255.15 L431.07,249.93 L431.98,245.67 L432.89,242.45 L433.80,240.34 L434.72,239.40 L434.99,239.34 L435.63,240.09 L436.54,243.59 L437.45,249.46 L438.36,256.84 L439.27,264.63 L440.18,271.66 L441.09,276.90 L442.00,279.57 L442.37,279.81 L442.91,281.13 L443.83,283.32 L444.74,285.51 L445.65,287.71 L446.56,289.90 L447.56,292.31 L448.38,284.31 L449.29,275.64 L450.20,267.42 L451.11,259.88 L452.02,253.23 L452.94,247.64 L453.85,243.27 L454.76,240.24 L455.67,238.62 L456.22,238.36 L456.58,238.62 L457.49,241.48 L458.40,247.11 L459.31,254.66 L460.22,263.01 L461.13,270.93 L462.05,277.23 L462.96,280.99 L463.59,281.79 L463.87,282.42 L464.78,284.54 L465.69,286.65 L466.60,288.77 L467.51,290.88 L468.42,293.00 L468.70,293.63 L469.33,288.50 L470.24,281.28 L471.16,274.29 L472.07,267.69 L472.98,261.59 L473.89,256.13 L474.80,251.40 L475.71,247.50 L476.62,244.50 L477.53,242.47 L478.44,241.45 L478.90,241.32 L479.35,241.64 L480.27,244.17 L481.18,248.85 L482.09,254.96 L483.00,261.57 L483.91,267.68 L484.82,272.35 L485.73,274.88 L486.19,275.21 L486.64,275.75 L487.55,276.85 L488.46,277.95 L489.38,279.04 L490.29,280.14 L490.83,280.80 L491.20,276.62 L492.11,266.31 L493.02,256.43 L493.93,247.28 L494.84,239.12 L495.75,232.20 L496.66,226.72 L497.57,222.85 L498.49,220.70 L499.12,220.26 L499.40,220.40 L500.31,222.83 L501.22,227.84 L502.13,234.46 L503.04,241.42 L503.95,247.38 L504.86,251.19 L505.59,252.18 L505.77,252.56 L506.68,254.48 L507.60,256.41 L508.51,258.33 L509.42,260.25 L510.33,262.17 L511.24,264.10 L512.15,266.02 L512.61,266.98 L513.06,262.81 L513.97,254.57 L514.88,246.60 L515.79,239.10 L516.71,232.24 L517.62,226.17 L518.53,221.02 L519.44,216.93 L520.35,213.97 L521.26,212.22 L522.08,211.71 L523.08,213.59 L523.99,218.07 L524.90,224.03 L525.82,229.90 L526.73,234.17 L527.64,235.73 L528.55,239.67 L529.46,243.62 L530.37,247.57 L531.28,251.52 L532.19,255.47 L533.10,259.41 L533.56,261.39 L534.01,257.41 L534.93,249.53 L535.84,241.91 L536.75,234.71 L537.66,228.08 L538.57,222.17 L539.48,217.10 L540.39,212.98 L541.30,209.91 L542.21,207.94 L543.12,207.13 L543.31,207.10 L544.04,207.94 L544.95,211.25 L545.86,216.70 L546.77,223.62 L547.68,231.22 L548.59,238.60 L549.50,244.88 L550.41,249.32 L551.32,251.40 L551.60,251.52 L552.23,252.53 L553.15,253.98 L554.06,255.43 L554.97,256.87 L555.88,258.32 L556.15,258.76 L556.79,253.02 L557.70,244.96 L558.61,237.23 L559.52,230.00 L560.43,223.46 L561.34,217.75 L562.26,213.01 L563.17,209.36 L564.08,206.87 L564.99,205.62 L565.44,205.46 L565.90,205.83 L566.81,208.72 L567.72,214.15 L568.63,221.48 L569.54,229.80 L570.45,238.13 L571.37,245.45 L572.28,250.89 L573.19,253.78 L573.64,254.15 L574.10,254.64 L575.01,255.62 L575.92,256.60 L576.83,257.58 L577.74,258.56 L577.92,258.76 L578.65,251.69 L579.56,243.03 L580.48,234.75 L581.39,227.04 L582.30,220.10 L583.21,214.10 L584.12,209.17 L585.03,205.44 L585.94,203.00 L586.85,201.90 L587.13,201.84 L587.76,202.69 L588.67,206.72 L589.59,213.62 L590.50,222.61 L591.41,232.63 L592.32,242.54 L593.23,251.18 L594.14,257.57 L595.05,260.96 L595.51,261.39 L595.96,261.76 L596.87,262.51 L597.78,263.25 L598.70,264.00 L599.61,264.74 L600.34,265.34 L600.52,263.59 L601.43,254.90 L602.34,246.46 L603.25,238.48 L604.16,231.15 L605.07,224.64 L605.98,219.11 L606.89,214.70 L607.81,211.52 L608.72,209.63 L609.54,209.08 L610.54,210.91 L611.45,215.52 L612.36,222.34 L613.27,230.48 L614.18,238.89 L615.09,246.50 L616.00,252.31 L616.92,255.57 L617.46,256.12 L617.83,257.11 L618.74,259.58 L619.65,262.05 L620.56,264.51 L621.47,266.98 L622.38,269.45 L622.56,269.94 L623.29,261.11 L624.20,250.33 L625.11,240.13 L626.03,230.81 L626.94,222.66 L627.85,215.92 L628.76,210.78 L629.67,207.40 L630.58,205.87 L630.85,205.79 L631.49,206.49 L632.40,209.80 L633.31,215.41 L634.22,222.53 L635.14,230.17 L636.05,237.29 L636.96,242.89 L637.87,246.21 L638.51,246.91 L638.78,248.08 L639.69,251.99 L640.60,255.89 L641.51,259.79 L642.42,263.70 L643.33,267.60 L643.88,269.94 L644.25,265.38 L645.16,254.09 L646.07,243.24 L646.98,233.11 L647.89,224.00 L648.80,216.13 L649.71,209.73 L650.62,204.98 L651.53,201.99 L652.54,200.85 L653.36,202.35 L654.27,207.34 L655.18,215.25 L656.09,225.15 L657.00,235.87 L657.91,246.15 L658.82,254.77 L659.73,260.72 L660.64,263.29 L660.83,263.36 L661.55,263.88 L662.47,264.53 L663.38,265.17 L664.29,265.82 L665.20,266.46 L665.93,266.98 L666.11,265.09 L667.02,255.68 L667.93,246.53 L668.84,237.87 L669.75,229.91 L670.66,222.81 L671.58,216.77 L672.49,211.91 L673.40,208.35 L674.31,206.19 L675.22,205.46" stroke="#0000ff"/>
<path d="M27.50,279.81 L28.41,280.44 L29.32,282.09 L30.23,284.12 L31.14,285.76 L32.05,286.39 L32.97,276.71 L33.88,267.35 L34.79,258.63 L35.70,250.83 L36.61,244.21 L37.52,238.99 L38.43,235.35 L39.34,233.41 L39.89,233.09 L40.25,233.17 L41.16,233.87 L42.08,234.62 L42.53,234.74 L42.99,237.79 L43.90,243.89 L44.81,250.00 L45.72,256.10 L46.63,262.20 L47.54,268.30 L48.18,272.57 L48.45,273.33 L49.36,275.85 L50.27,278.38 L51.19,280.90 L52.10,283.43 L53.01,285.95 L53.92,288.47 L54.83,291.00 L55.74,280.84 L56.65,271.03 L57.56,261.90 L58.47,253.76 L59.38,246.89 L60.30,241.52 L61.21,237.84 L62.12,235.96 L62.57,235.73 L63.03,236.10 L63.94,239.05 L64.85,244.60 L65.76,252.07 L66.67,260.57 L67.58,269.06 L68.49,276.53 L69.41,282.08 L70.32,285.03 L70.77,285.40 L71.23,285.99 L72.14,287.17 L73.05,288.34 L73.96,289.52 L74.87,290.69 L75.78,291.87 L76.69,293.04 L77.15,293.63 L77.60,286.08 L78.52,271.53 L79.43,258.59 L80.34,248.20 L81.25,241.13 L82.16,237.88 L82.43,237.70 L83.07,237.96 L83.98,238.85 L84.89,239.34 L85.80,244.74 L86.71,250.14 L87.63,255.53 L88.54,260.93 L89.45,266.32 L90.36,271.72 L91.27,277.11 L91.73,279.81 L92.18,280.47 L93.09,281.79 L94.00,283.10 L94.91,284.42 L95.82,285.73 L96.74,287.05 L97.65,288.37 L98.10,289.02 L98.56,285.14 L99.47,277.48 L100.38,270.15 L101.29,263.35 L102.20,257.29 L103.11,252.13 L104.02,248.02 L104.93,245.08 L105.85,243.38 L106.57,242.96 L106.76,243.04 L107.67,245.63 L108.58,251.51 L109.49,259.72 L110.40,268.90 L111.31,277.55 L112.22,284.25 L113.13,287.90 L113.59,288.37 L114.04,288.68 L114.96,289.32 L115.87,289.96 L116.78,290.59 L117.69,291.23 L118.60,291.87 L119.24,292.31 L119.51,290.24 L120.42,283.37 L121.33,276.71 L122.24,270.42 L123.15,264.63 L124.07,259.48 L124.98,255.10 L125.89,251.58 L126.80,249.01 L127.71,247.44 L128.62,246.91 L129.53,248.72 L130.44,253.79 L131.35,261.18 L132.26,269.50 L133.18,277.20 L134.09,282.83 L135.00,285.33 L135.18,285.40 L135.91,286.15 L136.82,287.07 L137.73,288.00 L138.64,288.93 L139.55,289.85 L140.46,290.78 L141.37,291.71 L141.65,291.99 L142.29,287.30 L143.20,280.72 L144.11,274.41 L145.02,268.53 L145.93,263.21 L146.84,258.59 L147.75,254.77 L148.66,251.85 L149.57,249.90 L150.48,248.97 L150.85,248.89 L151.40,249.36 L152.31,252.14 L153.22,257.03 L154.13,263.30 L155.04,270.01 L155.95,276.19 L156.86,280.89 L157.77,283.43 L158.23,283.76 L158.68,284.09 L159.59,284.75 L160.51,285.40 L161.42,286.06 L162.33,286.72 L163.24,287.38 L164.15,281.36 L165.06,275.48 L165.97,269.90 L166.88,264.75 L167.79,260.16 L168.70,256.24 L169.62,253.08 L170.53,250.77 L171.44,249.36 L172.35,248.89 L173.26,250.47 L174.17,254.95 L175.08,261.59 L175.99,269.31 L176.90,276.84 L177.81,282.93 L178.73,286.60 L179.36,287.38 L179.64,287.95 L180.55,289.86 L181.46,291.77 L182.37,293.68 L183.28,295.59 L184.19,297.50 L185.10,299.41 L186.01,301.31 L186.74,302.84 L186.92,301.21 L187.84,293.19 L188.75,285.79 L189.66,279.47 L190.57,274.65 L191.48,271.63 L192.39,270.60 L193.30,271.48 L194.21,273.97 L195.12,277.71 L196.03,282.12 L196.95,286.52 L197.86,290.26 L198.77,292.75 L199.68,293.63 L200.59,295.21 L201.50,296.79 L202.41,298.37 L203.32,299.95 L204.23,301.53 L205.14,296.37 L206.06,291.30 L206.97,286.38 L207.88,281.69 L208.79,277.30 L209.70,273.29 L210.61,269.70 L211.52,266.61 L212.43,264.04 L213.34,262.05 L214.25,260.66 L215.17,259.90 L215.80,259.74 L216.08,259.83 L216.99,261.40 L217.90,264.70 L218.81,269.25 L219.72,274.36 L220.63,279.28 L221.54,283.27 L222.45,285.76 L223.18,286.39 L223.36,286.50 L224.28,287.01 L225.19,287.53 L226.10,288.04 L227.01,288.56 L227.83,289.02 L228.83,283.14 L229.74,278.16 L230.65,273.82 L231.56,270.40 L232.47,268.09 L233.39,267.04 L233.66,266.98 L234.30,267.66 L235.21,270.51 L236.12,273.99 L237.03,276.07 L237.30,276.19 L237.94,278.70 L238.85,282.28 L239.76,285.86 L240.67,289.43 L241.58,293.01 L242.50,296.59 L243.41,297.27 L244.32,297.95 L245.23,298.63 L246.14,299.31 L247.05,299.99 L247.96,300.67 L248.87,301.35 L249.78,302.03 L250.69,302.71 L250.88,302.84 L251.61,297.14 L252.52,290.17 L253.43,283.58 L254.34,277.56 L255.25,272.29 L256.16,267.93 L257.07,264.61 L257.98,262.43 L258.89,261.44 L259.17,261.39 L259.80,261.73 L260.72,263.36 L261.63,266.13 L262.54,269.73 L263.45,273.71 L264.36,277.59 L265.27,280.90 L266.18,283.25 L267.09,284.35 L267.37,284.42 L268.00,285.50 L268.91,287.05 L269.83,288.60 L270.74,290.15 L271.65,291.69 L272.01,292.31 L272.56,288.18 L273.47,281.39 L274.38,274.90 L275.29,268.89 L276.20,263.51 L277.11,258.92 L278.02,255.24 L278.94,252.58 L279.85,250.99 L280.67,250.53 L281.67,251.78 L282.58,254.91 L283.49,259.53 L284.40,265.02 L285.31,270.66 L286.22,275.71 L287.13,279.50 L288.05,281.53 L288.50,281.79 L288.96,282.62 L289.87,284.29 L290.78,285.97 L291.69,287.64 L292.60,289.31 L293.51,290.98 L294.06,291.99 L294.42,289.01 L295.33,281.65 L296.24,274.50 L297.16,267.73 L298.07,261.49 L298.98,255.90 L299.89,251.08 L300.80,247.15 L301.71,244.18 L302.62,242.24 L303.53,241.37 L303.81,241.32 L304.44,242.28 L305.35,246.78 L306.27,254.12 L307.18,262.89 L308.09,271.41 L309.00,278.03 L309.91,281.47 L310.27,281.79 L310.82,282.60 L311.73,283.94 L312.64,285.29 L313.55,286.64 L314.46,287.99 L315.38,289.34 L315.83,290.01 L316.29,286.37 L317.20,279.18 L318.11,272.22 L319.02,265.67 L319.93,259.65 L320.84,254.32 L321.75,249.78 L322.66,246.14 L323.57,243.48 L324.49,241.86 L325.40,241.32 L326.31,242.37 L327.22,245.37 L328.13,249.85 L329.04,255.14 L329.95,260.42 L330.86,264.91 L331.77,267.90 L332.68,268.95 L333.60,273.00 L334.51,277.04 L335.42,281.08 L336.33,285.12 L337.24,289.16 L337.88,291.99 L338.15,288.64 L339.06,277.62 L339.97,267.15 L340.88,257.60 L341.79,249.35 L342.71,242.69 L343.62,237.88 L344.53,235.10 L345.26,234.41 L345.44,234.41 L346.35,234.41 L347.26,234.41 L347.90,234.41 L348.17,235.88 L349.08,240.79 L349.99,245.70 L350.90,250.61 L351.82,255.52 L352.73,260.43 L353.64,265.34 L354.55,268.53 L355.46,271.72 L356.37,274.91 L357.28,278.10 L358.19,281.29 L359.10,284.48 L359.65,286.39 L360.01,283.00 L360.93,274.58 L361.84,266.44 L362.75,258.75 L363.66,251.70 L364.57,245.43 L365.48,240.09 L366.39,235.81 L367.30,232.68 L368.21,230.77 L369.12,230.13 L370.04,231.80 L370.95,236.57 L371.86,243.74 L372.77,252.28 L373.68,260.95 L374.59,268.49 L375.50,273.80 L376.41,276.13 L376.59,276.19 L377.32,277.73 L378.23,279.66 L379.15,281.58 L380.06,283.51 L380.97,285.43 L381.42,286.39 L381.88,282.84 L382.79,275.84 L383.70,269.12 L384.61,262.86 L385.52,257.23 L386.43,252.38 L387.34,248.43 L388.26,245.50 L389.17,243.67 L390.17,242.96 L390.99,244.00 L391.90,247.45 L392.81,252.91 L393.72,259.69 L394.63,266.97 L395.54,273.84 L396.45,279.46 L397.37,283.14 L398.28,284.42 L399.19,286.13 L400.10,287.84 L401.01,289.55 L401.92,291.26 L402.83,292.97 L403.74,284.69 L404.65,276.66 L405.56,269.12 L406.48,262.31 L407.39,256.43 L408.30,251.66 L409.21,248.14 L410.12,245.99 L411.03,245.27 L411.94,246.22 L412.85,249.01 L413.76,253.38 L414.67,258.94 L415.58,265.21 L416.50,271.61 L417.41,277.59 L418.32,282.61 L419.23,286.23 L420.14,288.13 L420.60,288.37 L421.05,288.37 L421.96,288.37 L422.87,288.37 L423.78,288.37 L424.69,288.37 L425.61,281.67 L426.52,275.11 L427.43,268.82 L428.34,262.93 L429.25,257.56 L430.16,252.81 L431.07,248.79 L431.98,245.57 L432.89,243.22 L433.80,241.80 L434.72,241.32 L435.63,242.59 L436.54,246.24 L437.45,251.75 L438.36,258.37 L439.27,265.17 L440.18,271.23 L441.09,275.70 L442.00,277.96 L442.37,278.17 L442.91,279.68 L443.83,282.19 L444.74,284.71 L445.65,287.22 L446.56,289.74 L447.01,291.00 L447.47,287.02 L448.38,279.14 L449.29,271.53 L450.20,264.35 L451.11,257.77 L452.02,251.93 L452.94,246.96 L453.85,242.98 L454.76,240.07 L455.67,238.30 L456.58,237.70 L457.49,239.36 L458.40,244.07 L459.31,251.06 L460.22,259.17 L461.13,267.08 L462.05,273.49 L462.96,277.35 L463.59,278.17 L463.87,278.78 L464.78,280.83 L465.69,282.88 L466.60,284.93 L467.51,286.98 L468.42,289.02 L469.33,281.32 L470.24,273.78 L471.16,266.55 L472.07,259.80 L472.98,253.64 L473.89,248.22 L474.80,243.65 L475.71,240.01 L476.62,237.39 L477.53,235.85 L478.35,235.40 L479.35,236.98 L480.27,240.97 L481.18,246.85 L482.09,253.85 L483.00,261.04 L483.91,267.47 L484.82,272.29 L485.73,274.87 L486.19,275.21 L486.64,275.75 L487.55,276.85 L488.46,277.95 L489.38,279.04 L490.29,280.14 L490.83,280.80 L491.20,276.30 L492.11,265.21 L493.02,254.58 L493.93,244.72 L494.84,235.94 L495.75,228.50 L496.66,222.60 L497.57,218.44 L498.49,216.13 L499.12,215.66 L499.40,215.82 L500.31,218.62 L501.22,224.36 L502.13,231.82 L503.04,239.44 L503.95,245.64 L504.86,249.09 L505.32,249.54 L505.77,251.15 L506.68,254.36 L507.60,257.56 L508.51,260.77 L509.42,263.98 L510.33,267.19 L511.24,270.39 L512.15,273.60 L512.61,275.21 L513.06,269.77 L513.97,259.05 L514.88,248.78 L515.79,239.24 L516.71,230.71 L517.62,223.42 L518.53,217.56 L519.44,213.32 L520.35,210.80 L521.17,210.06 L522.17,211.94 L523.08,216.58 L523.99,223.23 L524.90,230.77 L525.82,237.92 L526.73,243.48 L527.64,246.52 L528.09,246.91 L528.55,248.56 L529.46,251.85 L530.37,255.14 L531.28,258.43 L532.19,261.72 L533.10,265.01 L534.01,268.30 L534.93,271.59 L535.84,261.29 L536.75,251.24 L537.66,241.67 L538.57,232.81 L539.48,224.87 L540.39,218.03 L541.30,212.46 L542.21,208.29 L543.12,205.61 L544.04,204.50 L544.22,204.47 L544.95,205.57 L545.86,209.86 L546.77,216.77 L547.68,225.27 L548.59,234.11 L549.50,241.96 L550.41,247.67 L551.32,250.38 L551.60,250.53 L552.23,252.71 L553.15,255.82 L554.06,258.94 L554.97,262.05 L555.88,265.17 L556.70,267.97 L557.70,257.50 L558.61,248.22 L559.52,239.38 L560.43,231.16 L561.34,223.74 L562.26,217.30 L563.17,211.96 L564.08,207.86 L564.99,205.07 L565.90,203.66 L566.36,203.48 L566.81,203.94 L567.72,207.45 L568.63,213.94 L569.54,222.42 L570.45,231.60 L571.37,240.08 L572.28,246.57 L573.19,250.08 L573.64,250.53 L574.10,252.18 L575.01,255.47 L575.92,258.76 L576.83,262.05 L577.74,265.34 L577.92,265.99 L578.65,258.93 L579.56,250.24 L580.48,241.87 L581.39,233.98 L582.30,226.72 L583.21,220.26 L584.12,214.70 L585.03,210.18 L585.94,206.77 L586.85,204.54 L587.76,203.54 L588.04,203.48 L588.67,204.41 L589.59,208.77 L590.50,216.11 L591.41,225.37 L592.32,235.20 L593.23,244.17 L594.14,250.99 L595.05,254.66 L595.51,255.14 L595.96,255.23 L596.87,255.42 L597.78,255.60 L598.70,255.79 L599.61,255.98 L600.34,256.12 L600.52,254.49 L601.43,246.36 L602.34,238.46 L603.25,230.99 L604.16,224.13 L605.07,218.04 L605.98,212.87 L606.89,208.75 L607.81,205.77 L608.72,204.00 L609.54,203.48 L610.54,205.64 L611.45,211.06 L612.36,219.07 L613.27,228.63 L614.18,238.51 L615.09,247.44 L616.00,254.27 L616.92,258.11 L617.46,258.76 L617.83,259.08 L618.74,259.91 L619.65,260.73 L620.56,261.55 L621.47,262.37 L622.38,263.20 L622.56,263.36 L623.29,256.07 L624.20,247.15 L625.11,238.68 L626.03,230.87 L626.94,223.96 L627.85,218.11 L628.76,213.51 L629.67,210.26 L630.58,208.46 L631.22,208.09 L631.49,208.21 L632.40,210.31 L633.31,214.73 L634.22,220.79 L635.14,227.58 L636.05,234.05 L636.96,239.22 L637.87,242.31 L638.51,242.96 L638.78,243.72 L639.69,246.26 L640.60,248.80 L641.51,251.33 L642.42,253.87 L642.88,255.14 L643.33,251.12 L644.25,243.17 L645.16,235.48 L646.07,228.23 L646.98,221.56 L647.89,215.63 L648.80,210.57 L649.71,206.48 L650.62,203.46 L651.53,201.57 L652.54,200.85 L653.36,202.08 L654.27,206.18 L655.18,212.67 L656.09,220.80 L657.00,229.61 L657.91,238.05 L658.82,245.12 L659.73,250.01 L660.64,252.11 L660.83,252.18 L661.55,252.25 L662.47,252.33 L663.38,252.42 L664.29,252.50 L665.20,246.76 L666.11,241.13 L667.02,235.71 L667.93,230.62 L668.84,225.96 L669.75,221.80 L670.66,218.24 L671.58,215.34 L672.49,213.15 L673.40,211.73 L674.31,211.09 L674.58,211.05 L675.22,211.65 L676.13,212.70 L677.04,219.00 L677.95,225.31 L678.86,231.61 L679.77,237.92 L680.69,244.23 L681.60,250.53 L682.51,254.15" stroke="#ff0000"/>
</g>
<rect x="624.60" y="282.40" width="53.8" height="23.8" rx="1.6" fill="#ffffff" fill-opacity="0.8" stroke="#d6d6d6" stroke-width="0.8"/>
<path d="M627.10,287.60 h15.5" stroke="#0000ff" stroke-width="1.35"/>
<path d="M627.10,298.70 h15.5" stroke="#ff0000" stroke-width="1.35"/>
<text x="648.10" y="290.60" font-size="7.5" text-anchor="start" textLength="28.00" lengthAdjust="spacingAndGlyphs">WRF_irr</text>
<text x="648.00" y="301.70" font-size="7.5" text-anchor="start" textLength="25.60" lengthAdjust="spacingAndGlyphs">Station</text>
<rect x="27.5" y="188.4" width="655.0" height="121.6" fill="none" stroke="#444444" stroke-width="1"/>
<path d="M27.50,310.0 v2.8 M115.50,310.0 v2.8 M203.00,310.0 v2.8 M290.50,310.0 v2.8 M378.00,310.0 v2.8 M465.00,310.0 v2.8 M552.50,310.0 v2.8 M639.70,310.0 v2.8 M27.5,303.50 h-2.8 M27.5,270.60 h-2.8 M27.5,237.70 h-2.8 M27.5,204.80 h-2.8" stroke="#444444" stroke-width="0.8"/>
<text x="27.20" y="322.25" font-size="10.0" text-anchor="middle" textLength="49.2" lengthAdjust="spacingAndGlyphs">2020-04-01</text>
<text x="115.20" y="322.25" font-size="10.0" text-anchor="middle" textLength="49.2" lengthAdjust="spacingAndGlyphs">2020-04-05</text>
<text x="202.70" y="322.25" font-size="10.0" text-anchor="middle" textLength="49.2" lengthAdjust="spacingAndGlyphs">2020-04-09</text>
<text x="290.20" y="322.25" font-size="10.0" text-anchor="middle" textLength="49.2" lengthAdjust="spacingAndGlyphs">2020-04-13</text>
<text x="377.70" y="322.25" font-size="10.0" text-anchor="middle" textLength="49.2" lengthAdjust="spacingAndGlyphs">2020-04-17</text>
<text x="464.70" y="322.25" font-size="10.0" text-anchor="middle" textLength="49.2" lengthAdjust="spacingAndGlyphs">2020-04-21</text>
<text x="552.20" y="322.25" font-size="10.0" text-anchor="middle" textLength="49.2" lengthAdjust="spacingAndGlyphs">2020-04-25</text>
<text x="639.40" y="322.25" font-size="10.0" text-anchor="middle" textLength="49.2" lengthAdjust="spacingAndGlyphs">2020-04-29</text>
<text x="22.10" y="306.85" font-size="10.0" text-anchor="end" textLength="10.00" lengthAdjust="spacingAndGlyphs">10</text>
<text x="22.10" y="273.95" font-size="10.0" text-anchor="end" textLength="10.00" lengthAdjust="spacingAndGlyphs">20</text>
<text x="22.10" y="241.05" font-size="10.0" text-anchor="end" textLength="10.00" lengthAdjust="spacingAndGlyphs">30</text>
<text x="22.10" y="208.15" font-size="10.0" text-anchor="end" textLength="10.00" lengthAdjust="spacingAndGlyphs">40</text>
<text x="354.60" y="184.10" font-size="8.9" text-anchor="middle" textLength="50.09" lengthAdjust="spacingAndGlyphs">(b) Cahuilla</text>
<text x="355.00" y="333.00" font-size="7.0" text-anchor="middle" textLength="16.49" lengthAdjust="spacingAndGlyphs">Date</text>
<g transform="translate(7.0,250.20) rotate(-90)"><text x="0.00" y="0.00" font-size="7.0" text-anchor="middle" textLength="13.60" lengthAdjust="spacingAndGlyphs">(°C)</text></g>
<clipPath id="clipc"><rect x="33.5" y="364.5" width="649.0" height="121.0"/></clipPath>
<path d="M33.50,364.5 L33.50,485.5 M120.15,364.5 L120.15,485.5 M206.81,364.5 L206.81,485.5 M293.46,364.5 L293.46,485.5 M380.12,364.5 L380.12,485.5 M466.77,364.5 L466.77,485.5 M553.43,364.5 L553.43,485.5 M640.08,364.5 L640.08,485.5 M33.5,485.50 L682.5,485.50 M33.5,465.33 L682.5,465.33 M33.5,445.17 L682.5,445.17 M33.5,425.00 L682.5,425.00 M33.5,404.83 L682.5,404.83 M33.5,384.67 L682.5,384.67 M33.5,364.50 L682.5,364.50" stroke="#d2d2d2" stroke-width="1" fill="none" clip-path="url(#clipc)"/>
<g clip-path="url(#clipc)" fill="none" stroke-width="1.35" stroke-linejoin="round" stroke-linecap="butt">
<path d="M33.92,415.34 L34.84,414.42 L35.76,419.02 L36.31,417.18 L37.05,425.46 L38.15,431.90 L41.28,461.33 L43.67,466.85 L45.88,468.69 L47.35,467.77 L49.55,444.77 L51.39,419.02 L52.50,422.70 L53.60,435.58 L54.71,430.06 L55.99,411.66 L57.28,410.74 L59.67,402.47 L60.96,406.15 L62.43,413.50 L64.27,439.26 L65.74,459.49 L67.03,466.85 L68.32,466.48 L69.79,459.49 L70.71,439.26 L71.63,442.93 L72.55,446.61 L74.39,435.58 L76.23,409.82 L77.51,396.95 L78.99,420.86 L80.09,415.34 L81.19,407.99 L82.30,417.18 L83.03,424.54 L85.42,453.97 L88.18,465.01 L90.02,467.77 L91.49,465.01 L92.78,442.93 L93.70,431.90 L95.54,424.54 L97.38,417.18 L98.85,407.99 L100.69,386.83 L101.98,396.95 L102.90,400.63 L103.82,407.99 L105.66,439.26 L108.42,461.33 L110.26,463.17 L111.73,459.49 L113.57,441.09 L114.85,426.38 L117.25,413.50 L118.53,417.18 L119.45,420.86 L121.29,417.18 L124.05,416.26 L125.89,424.54 L128.65,446.61 L130.49,455.81 L132.33,457.65 L133.80,453.97 L136.01,431.90 L138.77,408.91 L140.05,411.66 L140.76,411.66 L142.60,415.34 L144.44,417.18 L146.28,414.42 L147.56,419.02 L149.04,435.58 L150.51,446.61 L152.35,457.65 L154.55,460.41 L156.03,448.45 L158.23,426.38 L160.07,411.66 L161.54,410.74 L162.83,407.07 L164.12,402.47 L165.59,402.47 L167.06,394.19 L168.35,392.35 L169.27,403.39 L170.74,420.86 L172.03,439.26 L173.32,446.61 L174.79,452.13 L176.26,441.09 L177.55,437.42 L179.39,415.34 L181.23,417.18 L183.07,407.99 L184.91,409.82 L186.74,413.50 L188.58,415.34 L190.42,394.19 L191.71,392.35 L193.18,400.63 L194.10,424.54 L195.39,446.61 L196.86,453.97 L197.78,456.73 L199.07,452.13 L200.54,435.58 L202.38,420.86 L204.22,415.34 L206.06,409.82 L207.90,407.99 L210.66,402.47 L212.13,406.15 L213.42,426.38 L215.26,439.26 L217.09,446.61 L218.93,452.13 L220.77,451.21 L222.61,435.58 L224.45,409.82 L226.29,403.39 L227.76,395.11 L229.05,391.43 L230.89,393.27 L232.73,397.87 L234.57,400.63 L236.41,415.34 L238.25,428.22 L239.54,430.06 L241.01,420.86 L242.85,406.15 L244.69,398.79 L245.76,395.11 L247.60,391.43 L249.44,388.67 L250.73,386.83 L251.83,390.51 L253.12,389.59 L254.96,389.59 L256.24,404.31 L257.72,422.70 L259.55,435.58 L261.39,444.77 L263.23,450.29 L264.71,450.29 L265.99,442.93 L267.28,417.18 L268.75,412.58 L270.22,407.99 L271.51,409.82 L273.35,412.58 L275.19,411.66 L276.48,412.58 L277.95,424.54 L279.79,439.26 L281.63,450.29 L283.47,452.13 L284.94,448.45 L286.78,431.90 L288.62,417.18 L290.46,411.66 L291.38,408.91 L292.66,419.02 L294.14,422.70 L295.98,420.86 L297.81,417.18 L299.10,422.70 L300.94,435.58 L302.78,444.77 L304.62,454.89 L306.46,452.13 L308.30,441.09 L310.14,424.54 L311.98,413.50 L313.27,417.18 L314.74,402.47 L316.58,399.71 L318.05,404.31 L319.89,420.86 L321.73,444.77 L323.01,470.53 L324.85,476.04 L326.69,475.12 L328.53,474.20 L330.37,453.97 L332.21,435.58 L333.68,424.54 L334.97,439.26 L336.81,452.13 L338.28,446.61 L339.57,439.26 L340.49,441.09 L342.33,424.54 L343.80,448.45 L345.64,465.01 L347.85,473.28 L349.69,474.20 L351.31,465.01 L352.60,444.77 L353.89,431.90 L354.99,426.38 L356.28,431.90 L357.56,433.74 L359.04,439.26 L360.88,435.58 L362.35,428.22 L363.64,425.46 L364.92,435.58 L366.39,463.17 L368.23,471.45 L370.07,473.28 L371.91,472.36 L373.38,463.17 L374.67,446.61 L376.51,439.26 L378.35,435.58 L379.64,437.42 L381.11,445.69 L382.58,439.26 L384.05,433.74 L385.71,444.77 L387.55,461.33 L389.39,468.69 L391.23,466.85 L393.07,464.09 L394.91,453.97 L396.74,439.26 L398.58,422.70 L400.42,413.50 L401.71,419.02 L403.18,428.22 L405.02,425.46 L406.86,426.38 L408.70,439.26 L410.54,448.45 L412.38,453.97 L414.22,454.89 L416.06,448.45 L417.90,431.90 L419.74,417.18 L421.58,415.34 L423.42,410.74 L425.26,407.07 L427.09,407.99 L428.93,417.18 L430.77,435.58 L432.61,450.29 L434.45,462.25 L436.29,465.93 L438.13,463.17 L439.97,448.45 L441.44,435.58 L442.73,424.54 L444.02,419.94 L445.49,433.74 L446.96,424.54 L448.80,418.10 L450.64,422.70 L452.48,439.26 L454.32,452.13 L456.31,459.49 L458.15,462.25 L459.99,457.65 L461.83,444.77 L463.12,435.58 L464.40,426.38 L466.24,426.38 L468.08,424.54 L469.92,422.70 L471.39,420.86 L472.87,428.22 L474.15,439.26 L475.99,453.97 L477.28,461.33 L479.12,462.25 L480.59,461.33 L482.06,453.97 L483.35,439.26 L484.64,431.90 L486.11,417.18 L487.95,409.82 L489.42,404.31 L490.71,403.39 L491.63,424.54 L493.10,431.90 L494.39,431.90 L495.67,442.93 L497.15,457.65 L498.99,468.69 L500.82,472.36 L502.66,473.28 L504.50,465.01 L506.34,450.29 L508.18,439.26 L510.02,428.22 L511.86,424.54 L513.70,420.86 L515.54,419.94 L517.01,431.90 L518.85,446.61 L520.69,468.69 L522.53,472.36 L524.37,474.20 L526.21,465.01 L528.05,448.45 L529.34,435.58 L531.18,425.46 L532.65,431.90 L534.30,432.82 L535.77,426.38 L537.25,425.46 L539.08,444.77 L540.92,461.33 L542.76,472.36 L544.97,473.28 L546.81,474.20 L548.65,459.49 L550.49,446.61 L552.33,455.81 L553.80,439.26 L555.27,435.58 L556.38,446.61 L557.85,436.50 L559.69,441.09 L560.76,457.65 L562.05,470.53 L563.52,475.12 L565.36,474.57 L567.20,472.36 L568.67,459.49 L569.96,439.26 L571.24,426.38 L572.72,428.22 L574.19,430.06 L575.47,434.66 L576.39,424.54 L577.87,415.34 L579.15,411.66 L580.44,417.18 L581.91,435.58 L583.38,455.81 L585.22,472.36 L587.06,476.04 L588.90,474.20 L590.74,463.17 L592.03,452.13 L593.87,442.93 L595.71,439.26 L597.55,431.90 L598.84,415.34 L599.94,422.70 L601.23,431.90 L602.51,446.61 L604.35,461.33 L606.19,470.53 L608.03,474.20 L609.87,473.28 L611.71,466.85 L613.55,450.29 L615.39,439.26 L617.23,435.58 L619.07,428.22 L620.91,415.34 L622.75,407.99 L623.85,413.50 L625.14,428.22 L626.98,450.29 L628.82,465.01 L630.66,472.36 L632.50,473.28 L634.34,465.01 L636.18,444.77 L638.01,431.90 L639.30,424.54 L640.30,424.54 L641.59,446.61 L643.06,428.22 L643.98,422.70 L645.27,439.26 L647.11,448.45 L648.94,461.33 L650.78,470.53 L652.62,474.20 L654.46,472.36 L656.30,465.01 L657.77,450.29 L659.25,442.93 L660.53,457.65 L661.82,452.13 L663.29,446.61 L665.13,437.42 L666.97,432.82 L668.44,435.58 L669.73,444.77 L671.02,465.01 L672.49,470.53 L673.96,473.28 L675.25,474.57" stroke="#0000ff"/>
<path d="M33.92,408.91 L35.21,407.99 L36.68,404.67 L38.15,409.82 L39.44,411.66 L41.28,439.26 L43.12,459.49 L44.96,464.09 L46.80,465.01 L48.64,457.65 L51.39,435.58 L53.23,426.38 L54.71,432.82 L55.99,431.90 L57.83,422.70 L59.67,413.50 L60.96,422.70 L62.06,435.58 L63.35,442.93 L65.19,450.29 L67.95,461.33 L69.79,455.81 L71.63,446.61 L72.55,444.77 L73.84,439.26 L75.67,422.70 L77.15,420.86 L78.99,407.99 L80.46,400.63 L81.74,396.03 L83.03,407.99 L84.50,422.70 L86.34,444.77 L88.18,461.33 L89.65,467.77 L90.94,465.01 L92.78,444.77 L93.70,435.58 L95.54,426.38 L97.38,425.46 L98.85,422.70 L100.14,418.10 L101.06,422.70 L101.98,431.90 L102.90,424.54 L103.82,422.70 L105.66,433.74 L108.42,450.29 L110.26,457.65 L112.09,456.73 L114.85,444.77 L117.61,431.90 L119.45,430.06 L120.92,426.38 L122.21,428.22 L123.50,417.18 L124.97,416.26 L126.44,424.54 L128.65,439.26 L130.49,446.61 L133.25,453.05 L135.09,450.29 L136.93,435.58 L139.69,422.70 L141.68,427.30 L142.60,425.46 L144.44,430.06 L146.28,430.06 L148.12,435.58 L149.96,446.61 L151.80,452.13 L154.55,453.97 L156.39,446.61 L158.23,428.22 L160.44,417.18 L161.91,407.99 L163.75,406.15 L165.59,404.31 L167.43,403.39 L168.90,403.39 L170.19,417.18 L172.03,435.58 L173.87,448.45 L176.26,450.29 L177.55,439.26 L178.84,417.18 L180.67,424.54 L182.15,407.99 L183.99,402.47 L185.46,398.79 L186.74,407.99 L188.03,413.50 L189.50,398.79 L191.34,392.35 L192.81,395.11 L194.10,419.02 L195.94,431.90 L197.23,433.74 L199.62,441.09 L201.46,422.70 L203.30,417.18 L205.14,411.66 L206.98,409.82 L208.82,407.99 L210.66,406.15 L212.50,403.39 L213.42,417.18 L215.26,439.26 L217.09,444.77 L219.85,445.69 L221.69,446.61 L222.98,435.58 L224.45,415.34 L226.29,406.15 L228.13,399.71 L229.97,395.11 L231.81,396.95 L233.65,398.79 L235.12,404.31 L236.96,422.70 L238.80,430.06 L240.09,428.22 L241.93,413.50 L243.77,398.79 L245.76,389.59 L247.60,388.67 L249.44,387.75 L251.28,385.91 L253.12,384.99 L254.96,384.99 L256.24,387.75 L257.72,406.15 L259.55,422.70 L261.39,433.74 L263.23,439.26 L264.71,441.09 L265.99,426.38 L267.28,404.31 L268.75,401.55 L270.59,400.63 L272.43,397.87 L274.27,396.03 L275.19,394.19 L276.48,391.43 L277.95,402.47 L279.79,426.38 L281.63,439.26 L283.47,444.77 L285.31,443.85 L287.15,431.90 L288.99,420.86 L290.46,417.18 L291.74,416.26 L293.03,423.62 L294.87,426.38 L296.34,424.54 L298.18,415.34 L299.65,426.38 L301.49,435.58 L303.33,444.77 L305.54,452.13 L307.38,450.29 L309.22,435.58 L311.06,417.18 L312.53,410.74 L313.82,407.99 L315.11,398.79 L316.58,396.03 L318.05,393.27 L319.34,392.35 L320.26,395.11 L321.18,407.99 L322.46,435.58 L323.93,465.01 L325.77,470.53 L327.61,470.53 L329.45,466.85 L331.29,444.77 L333.13,422.70 L334.60,428.22 L335.89,433.74 L337.18,421.78 L338.65,426.38 L340.12,407.99 L341.41,403.39 L342.70,406.15 L344.17,435.58 L346.01,461.33 L347.85,468.69 L349.69,470.53 L351.31,470.53 L352.60,450.29 L353.89,428.22 L355.36,420.86 L357.20,409.82 L358.12,407.99 L359.40,415.34 L360.88,410.74 L362.35,406.15 L363.64,411.66 L365.47,435.58 L367.31,450.29 L369.15,463.17 L370.99,466.85 L372.83,453.97 L374.12,439.26 L375.59,450.29 L377.43,424.54 L378.90,416.26 L380.74,413.50 L382.58,406.15 L383.87,409.82 L385.16,411.66 L386.63,420.86 L388.47,444.77 L390.31,457.65 L392.15,465.01 L393.99,461.33 L395.82,446.61 L397.66,435.58 L399.50,430.06 L401.34,420.86 L403.18,417.18 L404.65,413.50 L406.49,408.91 L407.78,415.34 L409.62,431.90 L411.46,444.77 L413.30,453.97 L415.14,453.05 L416.98,444.77 L418.82,431.90 L420.66,420.86 L422.50,415.34 L424.34,409.82 L426.18,405.23 L427.46,399.71 L428.93,400.63 L430.22,413.50 L431.69,431.90 L433.53,444.77 L435.37,452.13 L437.21,453.97 L439.05,444.77 L439.97,431.90 L440.89,437.42 L442.18,434.66 L443.65,430.06 L445.49,417.18 L446.96,409.82 L448.80,405.23 L450.64,404.31 L451.93,413.50 L453.77,435.58 L456.68,460.41 L458.52,461.33 L460.36,452.13 L462.20,441.09 L464.04,433.74 L465.88,424.54 L467.35,417.18 L468.64,413.50 L470.47,412.58 L472.31,420.86 L474.15,435.58 L475.99,448.45 L477.83,454.89 L479.67,456.73 L481.51,453.97 L483.35,435.58 L485.19,422.70 L487.03,415.34 L488.87,404.31 L490.71,399.71 L492.55,394.19 L493.84,397.87 L494.94,407.99 L496.23,422.70 L498.07,444.77 L499.91,465.01 L502.30,470.53 L503.58,465.01 L504.87,435.58 L506.34,421.78 L507.81,424.54 L509.10,415.34 L510.94,409.82 L512.78,405.23 L514.62,405.23 L515.91,415.34 L517.38,435.58 L519.22,453.97 L521.06,466.85 L522.90,469.61 L524.74,470.53 L526.58,450.29 L528.42,419.02 L529.89,417.18 L531.18,422.70 L533.01,413.50 L534.85,407.07 L536.14,405.23 L537.61,417.18 L539.45,439.26 L541.29,457.65 L543.13,463.17 L544.05,466.85 L544.97,465.01 L546.81,457.65 L548.65,444.77 L550.12,426.38 L551.96,419.02 L553.80,417.18 L555.09,420.86 L556.38,409.82 L557.85,407.07 L559.32,415.34 L560.76,442.93 L562.60,465.01 L564.44,467.77 L566.28,469.61 L568.12,463.17 L569.96,439.26 L571.24,426.38 L572.72,424.54 L574.55,409.82 L576.03,417.18 L577.31,408.91 L579.15,407.07 L580.44,409.82 L581.91,426.38 L583.75,444.77 L585.59,455.81 L587.43,459.49 L588.90,465.01 L590.74,452.13 L592.58,448.45 L594.42,441.09 L596.63,433.74 L598.47,430.06 L599.94,420.86 L601.23,415.34 L602.51,422.70 L603.99,442.93 L605.82,455.81 L607.66,461.33 L609.50,465.01 L611.34,463.17 L613.18,457.65 L615.02,442.93 L616.86,417.18 L618.70,414.42 L620.91,411.66 L622.75,409.82 L623.85,415.34 L625.14,431.90 L626.98,446.61 L628.82,457.65 L630.66,465.01 L632.50,468.69 L634.34,453.97 L636.18,424.54 L637.46,420.86 L638.93,426.38 L640.30,424.54 L641.59,419.02 L643.43,415.34 L644.90,408.91 L646.37,422.70 L648.21,439.26 L650.05,453.97 L651.89,463.17 L653.73,466.85 L655.57,459.49 L657.41,441.09 L658.69,435.58 L659.98,426.38 L661.45,431.90 L662.92,419.02 L664.76,420.86 L666.05,415.34 L667.34,426.38 L668.81,430.06 L670.28,442.93 L672.12,455.81 L673.41,456.73 L674.70,452.13 L676.17,437.42 L677.64,441.09 L678.93,420.86 L680.21,442.93 L681.69,422.70 L682.42,426.38" stroke="#ff0000"/>
</g>
<rect x="624.60" y="368.70" width="53.8" height="23.8" rx="1.6" fill="#ffffff" fill-opacity="0.8" stroke="#d6d6d6" stroke-width="0.8"/>
<path d="M627.10,373.90 h15.5" stroke="#0000ff" stroke-width="1.35"/>
<path d="M627.10,385.00 h15.5" stroke="#ff0000" stroke-width="1.35"/>
<text x="648.10" y="376.90" font-size="7.5" text-anchor="start" textLength="28.00" lengthAdjust="spacingAndGlyphs">WRF_irr</text>
<text x="648.00" y="388.00" font-size="7.5" text-anchor="start" textLength="25.60" lengthAdjust="spacingAndGlyphs">Station</text>
<rect x="33.5" y="364.5" width="649.0" height="121.0" fill="none" stroke="#444444" stroke-width="1"/>
<path d="M33.50,485.5 v2.8 M120.15,485.5 v2.8 M206.81,485.5 v2.8 M293.46,485.5 v2.8 M380.12,485.5 v2.8 M466.77,485.5 v2.8 M553.43,485.5 v2.8 M640.08,485.5 v2.8 M33.5,485.50 h-2.8 M33.5,465.33 h-2.8 M33.5,445.17 h-2.8 M33.5,425.00 h-2.8 M33.5,404.83 h-2.8 M33.5,384.67 h-2.8 M33.5,364.50 h-2.8" stroke="#444444" stroke-width="0.8"/>
<text x="33.20" y="497.75" font-size="10.0" text-anchor="middle" textLength="49.2" lengthAdjust="spacingAndGlyphs">2020-04-01</text>
<text x="119.85" y="497.75" font-size="10.0" text-anchor="middle" textLength="49.2" lengthAdjust="spacingAndGlyphs">2020-04-05</text>
<text x="206.51" y="497.75" font-size="10.0" text-anchor="middle" textLength="49.2" lengthAdjust="spacingAndGlyphs">2020-04-09</text>
<text x="293.16" y="497.75" font-size="10.0" text-anchor="middle" textLength="49.2" lengthAdjust="spacingAndGlyphs">2020-04-13</text>
<text x="379.82" y="497.75" font-size="10.0" text-anchor="middle" textLength="49.2" lengthAdjust="spacingAndGlyphs">2020-04-17</text>
<text x="466.47" y="497.75" font-size="10.0" text-anchor="middle" textLength="49.2" lengthAdjust="spacingAndGlyphs">2020-04-21</text>
<text x="553.13" y="497.75" font-size="10.0" text-anchor="middle" textLength="49.2" lengthAdjust="spacingAndGlyphs">2020-04-25</text>
<text x="639.78" y="497.75" font-size="10.0" text-anchor="middle" textLength="49.2" lengthAdjust="spacingAndGlyphs">2020-04-29</text>
<text x="28.10" y="488.85" font-size="10.0" text-anchor="end" textLength="5.00" lengthAdjust="spacingAndGlyphs">0</text>
<text x="28.10" y="468.68" font-size="10.0" text-anchor="end" textLength="10.00" lengthAdjust="spacingAndGlyphs">20</text>
<text x="28.10" y="448.52" font-size="10.0" text-anchor="end" textLength="10.00" lengthAdjust="spacingAndGlyphs">40</text>
<text x="28.10" y="428.35" font-size="10.0" text-anchor="end" textLength="10.00" lengthAdjust="spacingAndGlyphs">60</text>
<text x="28.10" y="408.18" font-size="10.0" text-anchor="end" textLength="10.00" lengthAdjust="spacingAndGlyphs">80</text>
<text x="28.10" y="388.02" font-size="10.0" text-anchor="end" textLength="15.00" lengthAdjust="spacingAndGlyphs">100</text>
<text x="28.10" y="367.85" font-size="10.0" text-anchor="end" textLength="15.00" lengthAdjust="spacingAndGlyphs">120</text>
<text x="357.60" y="360.20" font-size="8.9" text-anchor="middle" textLength="97.56" lengthAdjust="spacingAndGlyphs">(c) Calipatria/Mulberry</text>
<text x="358.00" y="508.50" font-size="7.0" text-anchor="middle" textLength="16.49" lengthAdjust="spacingAndGlyphs">Date</text>
<g transform="translate(6.2,425.00) rotate(-90)"><text x="0.00" y="0.00" font-size="7.0" text-anchor="middle" textLength="78.50" lengthAdjust="spacingAndGlyphs">Relative Humidity (%)</text></g>
<clipPath id="clipd"><rect x="33.5" y="539.5" width="649.0" height="121.0"/></clipPath>
<path d="M33.50,539.5 L33.50,660.5 M120.15,539.5 L120.15,660.5 M206.81,539.5 L206.81,660.5 M293.46,539.5 L293.46,660.5 M380.12,539.5 L380.12,660.5 M466.77,539.5 L466.77,660.5 M553.43,539.5 L553.43,660.5 M640.08,539.5 L640.08,660.5 M33.5,660.50 L682.5,660.50 M33.5,636.30 L682.5,636.30 M33.5,612.10 L682.5,612.10 M33.5,587.90 L682.5,587.90 M33.5,563.70 L682.5,563.70 M33.5,539.50 L682.5,539.50" stroke="#d2d2d2" stroke-width="1" fill="none" clip-path="url(#clipd)"/>
<g clip-path="url(#clipd)" fill="none" stroke-width="1.35" stroke-linejoin="round" stroke-linecap="butt">
<path d="M33.92,633.57 L35.76,631.73 L37.60,630.44 L39.44,636.33 L41.28,642.77 L43.12,643.69 L44.96,644.05 L46.24,645.16 L47.72,640.01 L49.55,628.97 L51.39,610.58 L52.87,595.86 L53.79,591.26 L55.07,605.06 L55.99,603.22 L57.28,588.50 L58.75,580.23 L60.22,579.31 L61.51,592.18 L62.80,610.58 L64.27,627.13 L65.74,640.01 L67.58,641.85 L68.87,643.32 L70.71,632.65 L72.18,619.77 L73.47,612.42 L74.94,610.58 L76.78,597.70 L78.07,592.18 L78.99,630.81 L79.91,619.77 L81.19,619.77 L82.30,608.74 L83.58,603.22 L84.87,614.26 L86.34,632.65 L87.81,643.69 L89.65,642.77 L91.49,640.01 L92.78,627.13 L94.07,606.90 L95.54,592.18 L97.01,593.10 L98.30,595.86 L99.59,592.18 L100.69,581.15 L101.61,572.87 L102.53,575.63 L103.82,601.38 L105.11,610.58 L106.58,628.97 L108.42,638.17 L110.26,642.77 L111.73,643.69 L113.01,636.33 L114.30,617.93 L116.14,601.38 L117.98,590.34 L119.45,584.82 L120.92,590.34 L122.21,582.99 L123.50,581.15 L124.60,576.55 L125.89,592.18 L127.73,610.58 L129.57,623.45 L131.41,632.65 L133.25,637.25 L134.54,632.65 L136.01,610.58 L137.85,594.02 L139.69,586.66 L140.76,582.07 L142.60,578.39 L144.44,574.71 L145.73,568.27 L147.20,579.31 L148.67,592.18 L150.51,610.58 L152.35,625.29 L154.19,634.49 L155.47,635.41 L156.76,623.45 L158.23,606.90 L159.71,590.34 L160.99,587.58 L162.28,585.74 L163.75,576.55 L165.22,570.11 L166.51,567.35 L167.80,568.27 L169.27,582.99 L170.74,601.38 L172.58,614.26 L174.42,625.29 L176.26,628.05 L177.55,621.61 L179.39,606.90 L181.23,592.18 L183.07,586.66 L184.91,579.31 L186.19,571.03 L187.30,562.75 L188.58,562.75 L190.42,563.67 L191.71,563.67 L192.81,577.47 L194.10,599.54 L195.94,617.93 L197.23,623.45 L198.70,627.13 L200.17,617.93 L202.01,601.38 L203.85,592.18 L205.69,584.82 L207.53,580.23 L209.37,578.39 L211.21,581.15 L212.50,592.18 L214.34,606.90 L216.18,616.09 L218.01,625.29 L219.85,628.97 L221.69,625.29 L223.53,610.58 L225.37,592.18 L227.21,579.31 L229.05,576.55 L230.89,578.39 L232.73,581.15 L234.57,586.66 L236.41,597.70 L238.25,603.22 L240.09,601.38 L241.93,592.18 L243.77,581.15 L246.68,581.15 L248.15,566.43 L249.44,553.55 L251.28,544.36 L252.56,539.76 L253.67,538.84 L254.96,546.20 L256.24,564.59 L257.72,588.50 L259.19,601.38 L260.47,608.74 L262.31,614.26 L264.15,618.85 L265.99,622.53 L267.28,610.58 L268.75,590.34 L270.22,579.31 L271.51,572.87 L272.80,575.63 L273.90,578.39 L275.19,573.79 L276.48,581.15 L277.95,597.70 L279.79,610.58 L281.63,619.77 L283.47,626.21 L284.94,626.21 L286.78,614.26 L288.62,594.02 L290.46,582.99 L292.30,582.07 L294.14,581.15 L296.34,576.55 L297.81,573.79 L299.10,582.99 L300.94,606.90 L302.78,617.93 L304.62,625.29 L306.46,624.37 L308.30,610.58 L310.14,595.86 L311.98,584.82 L313.82,577.47 L315.66,573.79 L317.50,572.87 L318.78,582.99 L320.26,601.38 L321.73,621.61 L322.46,640.01 L323.93,650.12 L325.77,651.04 L327.61,651.04 L329.45,648.28 L330.92,643.69 L332.21,636.33 L333.13,628.97 L334.05,641.85 L335.89,649.20 L337.73,647.36 L339.57,645.53 L342.33,643.32 L344.17,644.61 L346.01,646.45 L347.85,647.36 L349.69,650.12 L350.76,650.12 L352.60,649.20 L353.89,632.65 L355.36,619.77 L356.83,615.18 L358.67,615.18 L360.51,617.01 L361.80,619.77 L363.08,625.29 L364.92,636.33 L366.76,643.69 L368.60,647.36 L370.44,649.20 L372.28,649.57 L373.75,643.69 L375.22,628.97 L377.06,617.93 L378.35,612.42 L379.64,609.66 L381.11,611.50 L382.58,612.42 L383.87,616.09 L385.71,625.29 L387.55,636.33 L389.39,641.85 L390.67,643.69 L392.15,641.85 L393.99,638.17 L395.82,625.29 L397.30,610.58 L398.58,599.54 L400.42,592.18 L401.71,586.66 L403.18,584.82 L404.65,582.07 L405.94,579.31 L407.23,590.34 L408.70,603.22 L410.54,616.09 L412.38,627.13 L414.22,629.89 L416.06,629.89 L417.53,621.61 L419.37,603.22 L421.21,586.66 L423.05,579.31 L424.89,573.79 L426.18,569.19 L427.46,564.59 L428.93,573.79 L430.77,597.70 L432.61,619.77 L434.45,632.65 L436.29,641.85 L438.13,641.85 L439.97,634.49 L441.81,616.09 L443.65,597.70 L445.12,592.18 L446.41,592.18 L448.25,579.31 L449.54,575.63 L451.01,584.82 L452.85,606.90 L454.69,623.45 L457.05,635.41 L458.89,634.49 L460.73,625.29 L462.56,610.58 L464.40,599.54 L466.24,592.18 L467.72,588.50 L469.19,579.31 L470.47,573.79 L471.39,575.63 L472.87,592.18 L474.71,606.90 L476.54,623.45 L478.38,634.49 L480.22,635.41 L482.06,630.81 L483.90,614.26 L485.74,597.70 L487.58,590.34 L488.87,581.15 L489.79,584.82 L491.26,599.54 L493.10,612.42 L494.94,625.29 L496.78,634.49 L498.62,641.85 L500.46,645.53 L502.30,647.36 L504.14,643.69 L505.98,632.65 L507.81,628.97 L509.10,634.49 L510.39,619.77 L511.86,614.26 L513.33,612.42 L514.62,614.26 L515.91,619.77 L517.38,630.81 L519.22,641.85 L521.06,646.45 L522.90,647.36 L525.11,649.20 L526.94,640.01 L528.78,636.33 L530.26,632.65 L532.09,628.97 L533.93,627.13 L535.77,628.05 L537.25,628.97 L539.08,640.01 L540.92,647.36 L542.76,650.12 L544.60,651.96 L546.44,647.36 L548.28,641.85 L549.57,634.49 L550.49,640.01 L552.33,641.85 L554.17,642.77 L556.01,641.85 L557.85,640.93 L559.69,645.53 L561.31,650.12 L563.15,651.96 L565.36,651.41 L567.20,650.12 L569.04,647.36 L570.88,641.85 L572.72,636.33 L574.19,627.13 L575.47,619.77 L576.76,616.09 L578.23,621.61 L579.71,627.13 L580.99,634.49 L582.83,643.69 L584.67,651.04 L586.51,652.52 L588.35,651.04 L590.19,645.53 L592.03,632.65 L593.87,627.13 L595.71,621.61 L597.55,618.85 L599.39,619.77 L600.67,623.45 L602.15,630.81 L603.99,640.01 L605.82,645.53 L607.66,648.28 L609.50,650.12 L611.34,649.20 L613.18,641.85 L615.02,630.81 L616.86,623.45 L618.33,620.69 L619.62,621.61 L621.46,616.09 L622.75,611.50 L623.85,614.26 L625.14,621.61 L626.98,632.65 L628.82,643.69 L630.66,647.36 L632.50,649.20 L634.34,648.28 L636.18,640.01 L638.01,636.33 L639.85,637.25 L640.30,636.33 L641.59,625.29 L642.69,614.26 L643.98,609.66 L645.27,614.26 L646.74,623.45 L648.21,636.33 L649.50,643.69 L651.34,649.20 L653.18,651.96 L655.01,651.96 L656.85,647.36 L658.69,638.17 L660.53,632.65 L662.37,630.81 L664.21,625.29 L665.50,617.93 L666.60,616.09 L667.89,619.77 L669.18,625.29 L670.28,633.57 L671.57,641.85 L673.41,647.36 L675.25,651.04" stroke="#0000ff"/>
<path d="M33.92,617.93 L34.84,619.77 L36.31,614.26 L38.15,610.58 L39.44,616.09 L40.73,632.65 L42.20,640.93 L44.04,643.69 L46.24,643.32 L47.72,639.09 L49.55,623.45 L51.39,615.18 L52.87,616.09 L54.71,617.93 L55.99,614.26 L57.83,597.70 L59.67,589.42 L60.96,592.18 L62.43,610.58 L64.27,625.29 L66.11,638.17 L67.95,640.01 L69.79,634.49 L71.63,632.65 L73.10,627.13 L74.94,610.58 L76.78,595.86 L78.62,582.99 L80.46,571.03 L81.19,586.66 L82.30,584.82 L83.58,599.54 L84.87,619.77 L86.34,638.17 L88.18,644.61 L90.02,647.36 L91.49,641.85 L92.78,625.29 L94.07,610.58 L95.17,601.38 L96.46,603.22 L97.75,610.58 L98.85,610.58 L100.14,603.22 L101.43,603.22 L102.53,606.90 L103.82,610.58 L104.74,617.93 L106.58,630.81 L108.42,637.25 L111.18,638.17 L113.01,636.33 L114.30,621.61 L115.77,614.26 L117.61,606.90 L119.45,601.38 L120.92,599.54 L122.21,599.54 L124.05,594.02 L125.34,597.70 L126.81,610.58 L128.65,621.61 L130.49,628.97 L132.33,634.49 L133.80,637.25 L135.09,632.65 L136.93,610.58 L139.32,592.18 L140.76,594.02 L142.05,593.10 L143.15,595.86 L144.44,592.18 L145.73,597.70 L146.83,597.70 L148.12,610.58 L149.96,625.29 L151.80,632.65 L153.64,634.49 L155.47,633.57 L157.31,619.77 L159.15,606.90 L160.99,594.94 L162.83,592.18 L164.12,594.02 L165.59,597.70 L167.06,594.02 L168.35,597.70 L169.64,605.06 L171.11,614.26 L172.95,621.61 L174.79,628.97 L176.63,629.89 L178.10,619.77 L179.39,592.18 L180.31,585.74 L181.41,605.06 L182.51,592.18 L183.62,568.27 L184.35,581.15 L185.09,577.47 L186.19,571.95 L187.66,562.75 L188.58,545.28 L189.50,586.66 M196.49,599.54 L197.78,597.70 L199.07,595.86 L200.17,605.06 L201.46,583.91 M203.30,567.35 L204.59,572.87 L205.69,573.79 M206.43,579.31 L207.90,581.15 L209.74,582.07 L211.21,584.82 L212.50,584.82 L213.42,605.06 L215.26,610.58 L217.09,614.26 L218.93,621.61 L220.41,623.45 L221.69,616.09 L222.98,606.90 L224.45,597.70 L225.92,584.82 L227.21,579.31 L229.05,582.99 L230.89,576.55 L232.18,581.15 L233.28,573.79 L234.02,540.68 L235.12,577.47 L236.41,592.18 L237.33,605.06 L238.80,603.22 L240.09,599.54 L241.38,592.18 L242.48,582.99 L243.21,545.28 L244.32,581.15 M259.55,583.91 L260.47,592.18 L261.39,599.54 M264.71,592.18 L265.44,595.86 L266.54,577.47 L267.28,581.15 M268.75,574.71 L269.67,576.55 M279.42,582.07 L280.71,595.86 L282.00,606.90 L283.47,616.09 L284.94,617.93 L286.78,606.90 L288.62,592.18 L289.91,584.82 L291.19,590.34 L292.30,588.50 L293.58,591.26 L294.87,581.15 L296.34,580.23 L297.81,579.31 L299.10,592.18 L300.94,610.58 L302.78,619.77 L304.62,625.29 L306.46,629.89 L307.75,628.97 L308.85,617.93 L310.69,603.22 L312.53,590.34 L313.82,580.23 M321.18,571.95 L322.09,601.38 L323.01,647.36 L324.85,650.12 L326.69,651.04 L328.53,650.12 L330.37,643.69 L332.21,641.85 L334.05,641.85 L335.89,636.33 L337.73,625.29 L338.65,619.77 L340.12,621.61 L341.41,610.58 L342.33,619.77 L343.80,625.29 L345.09,641.85 L346.93,652.88 L348.77,653.80 L350.76,647.36 L352.60,647.36 L353.89,628.97 L354.99,625.29 L355.73,632.65 L356.83,625.29 L358.12,622.53 L359.96,621.61 L361.24,617.93 L362.35,616.09 L363.64,623.45 L364.92,632.65 L366.39,640.01 L368.23,645.53 L370.07,647.36 L371.91,647.36 L373.75,641.85 L375.22,632.65 L377.06,627.13 L378.35,623.45 L379.64,619.77 L380.74,614.26 L382.03,617.93 L382.95,621.61 L384.79,610.58 L386.26,621.61 L387.55,632.65 L389.39,640.01 L391.23,641.85 L393.07,640.01 L394.91,632.65 L396.74,614.26 L398.58,606.90 L400.42,603.22 L402.26,597.70 L404.10,590.34 L405.94,594.02 L407.78,601.38 L409.62,614.26 L411.46,625.29 L413.30,630.81 L415.14,630.81 L416.98,625.29 L418.82,608.74 L420.66,594.02 L422.50,588.50 L424.34,585.74 L425.26,586.66 L426.18,579.31 L427.46,570.11 L428.57,579.31 L430.41,603.22 L432.25,621.61 L434.45,632.65 L436.29,636.33 L438.13,636.33 L439.97,628.97 L441.81,617.93 L443.65,610.58 L445.49,601.38 L447.33,584.82 L448.80,574.71 L450.09,581.15 L451.93,606.90 L454.32,625.29 L455.76,634.49 L458.15,639.09 L459.99,632.65 L461.83,616.09 L463.67,605.06 L465.51,599.54 L467.35,595.86 L469.19,588.50 L470.47,584.82 L471.39,586.66 L472.87,595.86 L474.71,610.58 L476.54,625.29 L478.38,633.57 L480.59,634.49 L482.43,628.97 L484.27,614.26 L486.11,597.70 L487.95,584.82 L489.42,573.79 L490.71,568.27 L491.63,584.82 M494.39,586.66 L495.67,606.90 L497.15,630.81 L498.99,640.01 L500.82,645.53 L502.66,647.36 L504.50,641.85 L505.98,628.97 L507.26,628.97 L508.55,621.61 L510.02,616.09 L511.49,606.90 L512.78,601.38 L514.62,597.70 L515.91,608.74 L517.38,625.29 L519.22,640.01 L521.06,645.53 L522.90,647.36 L524.74,647.36 L526.58,641.85 L528.42,634.49 L530.26,630.81 L532.09,625.29 L533.93,622.53 L535.41,619.77 L536.69,610.58 L537.98,619.77 L539.45,634.49 L541.29,647.36 L543.13,651.96 L544.97,653.80 L546.81,649.20 L548.65,641.85 L550.49,638.17 L552.33,636.33 L553.80,634.49 L555.64,638.17 L556.93,636.33 L558.21,626.21 L559.69,632.65 L562.05,650.12 L563.89,652.88 L565.73,651.96 L567.56,649.20 L569.40,645.53 L571.24,641.85 L573.08,634.49 L574.92,628.97 L576.39,623.45 L577.87,617.93 L579.15,611.50 L580.07,610.58 L581.54,625.29 L583.38,640.01 L585.22,651.04 L587.06,652.52 L588.90,651.04 L590.74,643.69 L592.03,638.17 L593.87,634.49 L595.71,632.65 L597.55,634.49 L599.39,637.25 L601.23,636.33 L603.07,641.85 L604.91,645.53 L606.74,649.20 L608.58,651.96 L610.42,651.04 L612.26,643.69 L614.10,636.33 L615.94,630.81 L617.78,627.13 L619.62,626.21 L621.46,623.45 L622.75,619.77 L623.85,625.29 L625.14,632.65 L626.98,640.01 L628.82,645.53 L630.66,647.36 L632.50,648.28 L634.34,645.53 L636.18,640.01 L638.01,637.25 L639.85,636.33 L640.30,636.33 L641.59,637.25 L643.43,636.33 L645.27,637.25 L646.74,634.49 L647.66,630.81 L648.58,640.01 L650.42,649.20 L652.26,651.96 L654.09,651.96 L655.93,649.20 L657.77,641.85 L659.61,636.33 L661.45,633.57 L663.29,631.73 L665.13,632.65 L666.97,633.57 L668.81,634.49 L670.65,641.85 L672.49,649.20 L674.33,651.96 L675.80,652.88 L677.09,647.36 L678.93,641.85 L680.21,638.17 L681.32,621.61 L682.05,620.69 L682.42,623.45" stroke="#ff0000"/>
</g>
<rect x="624.60" y="543.70" width="53.8" height="23.8" rx="1.6" fill="#ffffff" fill-opacity="0.8" stroke="#d6d6d6" stroke-width="0.8"/>
<path d="M627.10,548.90 h15.5" stroke="#0000ff" stroke-width="1.35"/>
<path d="M627.10,560.00 h15.5" stroke="#ff0000" stroke-width="1.35"/>
<text x="648.10" y="551.90" font-size="7.5" text-anchor="start" textLength="28.00" lengthAdjust="spacingAndGlyphs">WRF_irr</text>
<text x="648.00" y="563.00" font-size="7.5" text-anchor="start" textLength="25.60" lengthAdjust="spacingAndGlyphs">Station</text>
<rect x="33.5" y="539.5" width="649.0" height="121.0" fill="none" stroke="#444444" stroke-width="1"/>
<path d="M33.50,660.5 v2.8 M120.15,660.5 v2.8 M206.81,660.5 v2.8 M293.46,660.5 v2.8 M380.12,660.5 v2.8 M466.77,660.5 v2.8 M553.43,660.5 v2.8 M640.08,660.5 v2.8 M33.5,660.50 h-2.8 M33.5,636.30 h-2.8 M33.5,612.10 h-2.8 M33.5,587.90 h-2.8 M33.5,563.70 h-2.8 M33.5,539.50 h-2.8" stroke="#444444" stroke-width="0.8"/>
<text x="33.20" y="672.75" font-size="10.0" text-anchor="middle" textLength="49.2" lengthAdjust="spacingAndGlyphs">2020-04-01</text>
<text x="119.85" y="672.75" font-size="10.0" text-anchor="middle" textLength="49.2" lengthAdjust="spacingAndGlyphs">2020-04-05</text>
<text x="206.51" y="672.75" font-size="10.0" text-anchor="middle" textLength="49.2" lengthAdjust="spacingAndGlyphs">2020-04-09</text>
<text x="293.16" y="672.75" font-size="10.0" text-anchor="middle" textLength="49.2" lengthAdjust="spacingAndGlyphs">2020-04-13</text>
<text x="379.82" y="672.75" font-size="10.0" text-anchor="middle" textLength="49.2" lengthAdjust="spacingAndGlyphs">2020-04-17</text>
<text x="466.47" y="672.75" font-size="10.0" text-anchor="middle" textLength="49.2" lengthAdjust="spacingAndGlyphs">2020-04-21</text>
<text x="553.13" y="672.75" font-size="10.0" text-anchor="middle" textLength="49.2" lengthAdjust="spacingAndGlyphs">2020-04-25</text>
<text x="639.78" y="672.75" font-size="10.0" text-anchor="middle" textLength="49.2" lengthAdjust="spacingAndGlyphs">2020-04-29</text>
<text x="28.10" y="663.85" font-size="10.0" text-anchor="end" textLength="5.00" lengthAdjust="spacingAndGlyphs">0</text>
<text x="28.10" y="639.65" font-size="10.0" text-anchor="end" textLength="10.00" lengthAdjust="spacingAndGlyphs">20</text>
<text x="28.10" y="615.45" font-size="10.0" text-anchor="end" textLength="10.00" lengthAdjust="spacingAndGlyphs">40</text>
<text x="28.10" y="591.25" font-size="10.0" text-anchor="end" textLength="10.00" lengthAdjust="spacingAndGlyphs">60</text>
<text x="28.10" y="567.05" font-size="10.0" text-anchor="end" textLength="10.00" lengthAdjust="spacingAndGlyphs">80</text>
<text x="28.10" y="542.85" font-size="10.0" text-anchor="end" textLength="15.00" lengthAdjust="spacingAndGlyphs">100</text>
<text x="357.60" y="535.20" font-size="8.9" text-anchor="middle" textLength="50.09" lengthAdjust="spacingAndGlyphs">(d) Cahuilla</text>
<text x="358.00" y="683.50" font-size="7.0" text-anchor="middle" textLength="16.49" lengthAdjust="spacingAndGlyphs">Date</text>
<g transform="translate(6.2,600.00) rotate(-90)"><text x="0.00" y="0.00" font-size="7.0" text-anchor="middle" textLength="78.50" lengthAdjust="spacingAndGlyphs">Relative Humidity (%)</text></g>
</g>
</svg>
</body></html>
